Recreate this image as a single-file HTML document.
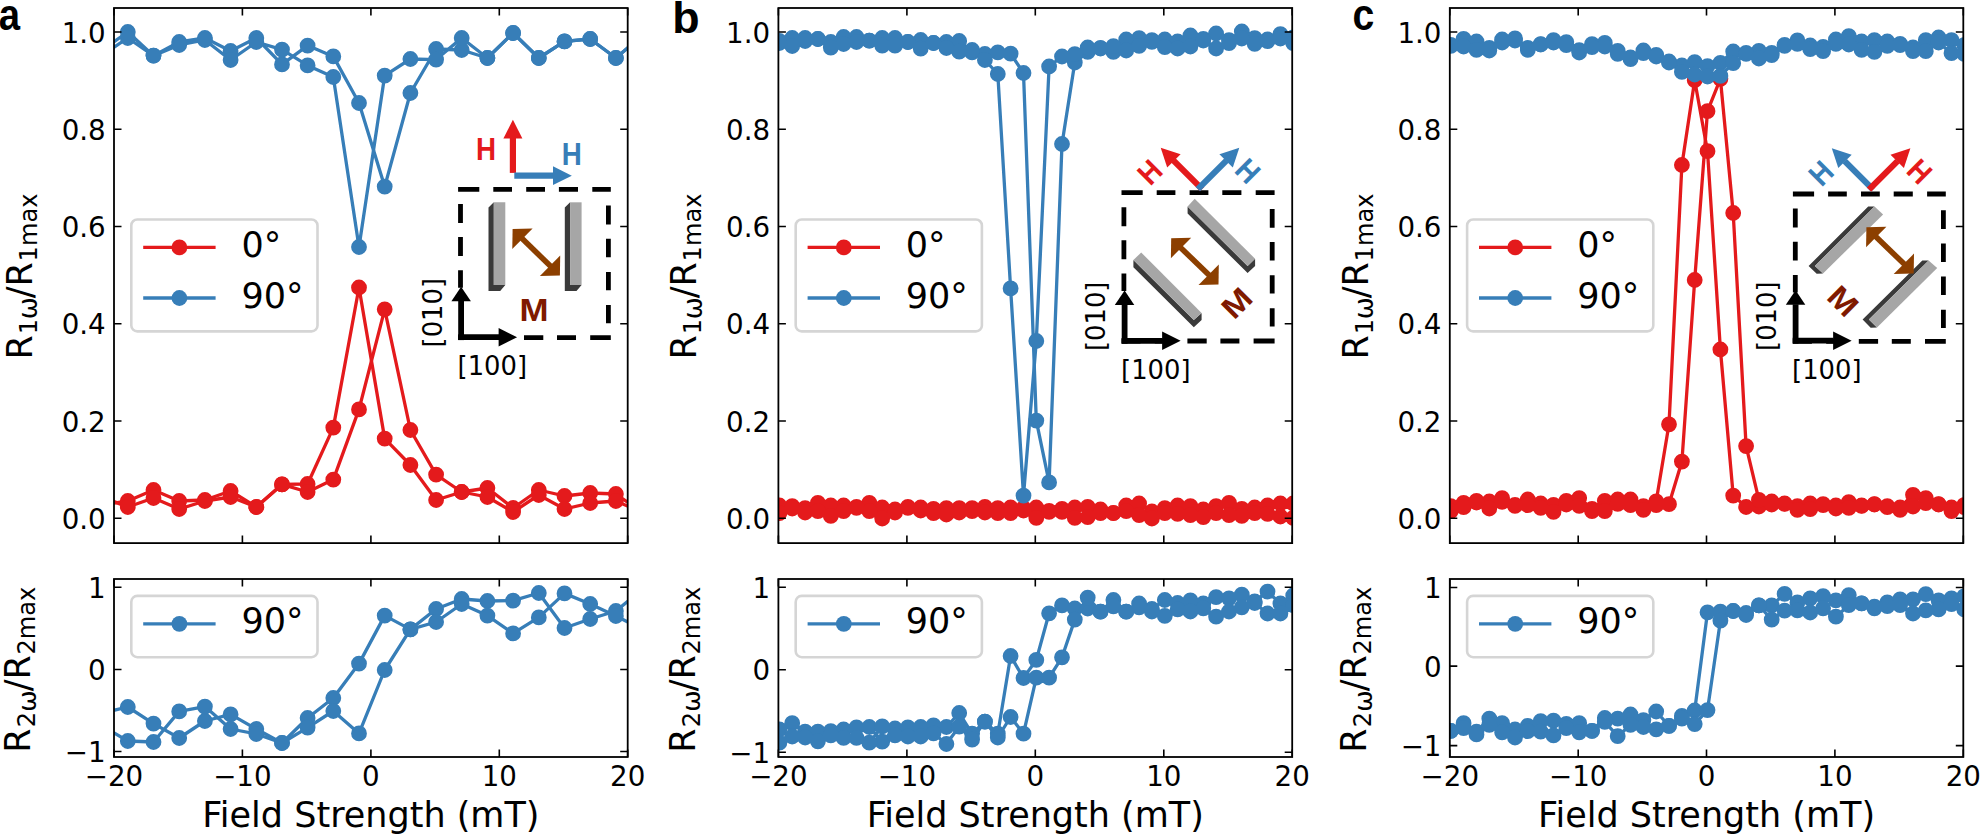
<!DOCTYPE html>
<html><head><meta charset="utf-8"><title>Figure</title>
<style>html,body{margin:0;padding:0;background:#fff}svg{display:block}text{font-family:"DejaVu Sans", "Liberation Sans", sans-serif;fill:#000}text.b{font-family:"Liberation Sans", "DejaVu Sans", sans-serif;font-weight:bold}</style>
</head><body>
<svg width="1980" height="835" viewBox="0 0 1980 835">
<rect width="1980" height="835" fill="#fff"/>
<defs>
<clipPath id="cta"><rect x="114" y="8" width="513.7" height="535.1"/></clipPath>
<clipPath id="cba"><rect x="114" y="579" width="513.7" height="178"/></clipPath>
<clipPath id="ctb"><rect x="778.4" y="8" width="513.8" height="535.1"/></clipPath>
<clipPath id="cbb"><rect x="778.4" y="579" width="513.8" height="178"/></clipPath>
<clipPath id="ctc"><rect x="1449.8" y="8" width="513.5" height="535.1"/></clipPath>
<clipPath id="cbc"><rect x="1449.8" y="579" width="513.5" height="178"/></clipPath>
</defs>
<g clip-path="url(#cta)">
<polyline points="102.2,505 127.8,501 153.5,490 179.2,501 204.9,500 230.6,491 256.3,507 282,484.4 307.6,484 333.3,427.6 359,287.5 384.7,438.6 410.4,465 436.1,500 461.7,492 487.4,488 513.1,508 538.8,490 564.5,496 590.2,493 615.9,494 641.5,512" fill="none" stroke="#e41a1c" stroke-width="3.3" stroke-linejoin="round"/>
<path d="M102.2,505m-7.9,0a7.9,7.9 0 1,0 15.8,0a7.9,7.9 0 1,0 -15.8,0M127.8,501m-7.9,0a7.9,7.9 0 1,0 15.8,0a7.9,7.9 0 1,0 -15.8,0M153.5,490m-7.9,0a7.9,7.9 0 1,0 15.8,0a7.9,7.9 0 1,0 -15.8,0M179.2,501m-7.9,0a7.9,7.9 0 1,0 15.8,0a7.9,7.9 0 1,0 -15.8,0M204.9,500m-7.9,0a7.9,7.9 0 1,0 15.8,0a7.9,7.9 0 1,0 -15.8,0M230.6,491m-7.9,0a7.9,7.9 0 1,0 15.8,0a7.9,7.9 0 1,0 -15.8,0M256.3,507m-7.9,0a7.9,7.9 0 1,0 15.8,0a7.9,7.9 0 1,0 -15.8,0M282,484.4m-7.9,0a7.9,7.9 0 1,0 15.8,0a7.9,7.9 0 1,0 -15.8,0M307.6,484m-7.9,0a7.9,7.9 0 1,0 15.8,0a7.9,7.9 0 1,0 -15.8,0M333.3,427.6m-7.9,0a7.9,7.9 0 1,0 15.8,0a7.9,7.9 0 1,0 -15.8,0M359,287.5m-7.9,0a7.9,7.9 0 1,0 15.8,0a7.9,7.9 0 1,0 -15.8,0M384.7,438.6m-7.9,0a7.9,7.9 0 1,0 15.8,0a7.9,7.9 0 1,0 -15.8,0M410.4,465m-7.9,0a7.9,7.9 0 1,0 15.8,0a7.9,7.9 0 1,0 -15.8,0M436.1,500m-7.9,0a7.9,7.9 0 1,0 15.8,0a7.9,7.9 0 1,0 -15.8,0M461.7,492m-7.9,0a7.9,7.9 0 1,0 15.8,0a7.9,7.9 0 1,0 -15.8,0M487.4,488m-7.9,0a7.9,7.9 0 1,0 15.8,0a7.9,7.9 0 1,0 -15.8,0M513.1,508m-7.9,0a7.9,7.9 0 1,0 15.8,0a7.9,7.9 0 1,0 -15.8,0M538.8,490m-7.9,0a7.9,7.9 0 1,0 15.8,0a7.9,7.9 0 1,0 -15.8,0M564.5,496m-7.9,0a7.9,7.9 0 1,0 15.8,0a7.9,7.9 0 1,0 -15.8,0M590.2,493m-7.9,0a7.9,7.9 0 1,0 15.8,0a7.9,7.9 0 1,0 -15.8,0M615.9,494m-7.9,0a7.9,7.9 0 1,0 15.8,0a7.9,7.9 0 1,0 -15.8,0M641.5,512m-7.9,0a7.9,7.9 0 1,0 15.8,0a7.9,7.9 0 1,0 -15.8,0" fill="#e41a1c"/>
<polyline points="102.2,497 127.8,507 153.5,498 179.2,509 204.9,501 230.6,497 256.3,507 282,484.4 307.6,492 333.3,479.6 359,409.4 384.7,309.3 410.4,430 436.1,474.6 461.7,492 487.4,497 513.1,512 538.8,495 564.5,509 590.2,503 615.9,501 641.5,512" fill="none" stroke="#e41a1c" stroke-width="3.3" stroke-linejoin="round"/>
<path d="M102.2,497m-7.9,0a7.9,7.9 0 1,0 15.8,0a7.9,7.9 0 1,0 -15.8,0M127.8,507m-7.9,0a7.9,7.9 0 1,0 15.8,0a7.9,7.9 0 1,0 -15.8,0M153.5,498m-7.9,0a7.9,7.9 0 1,0 15.8,0a7.9,7.9 0 1,0 -15.8,0M179.2,509m-7.9,0a7.9,7.9 0 1,0 15.8,0a7.9,7.9 0 1,0 -15.8,0M204.9,501m-7.9,0a7.9,7.9 0 1,0 15.8,0a7.9,7.9 0 1,0 -15.8,0M230.6,497m-7.9,0a7.9,7.9 0 1,0 15.8,0a7.9,7.9 0 1,0 -15.8,0M256.3,507m-7.9,0a7.9,7.9 0 1,0 15.8,0a7.9,7.9 0 1,0 -15.8,0M282,484.4m-7.9,0a7.9,7.9 0 1,0 15.8,0a7.9,7.9 0 1,0 -15.8,0M307.6,492m-7.9,0a7.9,7.9 0 1,0 15.8,0a7.9,7.9 0 1,0 -15.8,0M333.3,479.6m-7.9,0a7.9,7.9 0 1,0 15.8,0a7.9,7.9 0 1,0 -15.8,0M359,409.4m-7.9,0a7.9,7.9 0 1,0 15.8,0a7.9,7.9 0 1,0 -15.8,0M384.7,309.3m-7.9,0a7.9,7.9 0 1,0 15.8,0a7.9,7.9 0 1,0 -15.8,0M410.4,430m-7.9,0a7.9,7.9 0 1,0 15.8,0a7.9,7.9 0 1,0 -15.8,0M436.1,474.6m-7.9,0a7.9,7.9 0 1,0 15.8,0a7.9,7.9 0 1,0 -15.8,0M461.7,492m-7.9,0a7.9,7.9 0 1,0 15.8,0a7.9,7.9 0 1,0 -15.8,0M487.4,497m-7.9,0a7.9,7.9 0 1,0 15.8,0a7.9,7.9 0 1,0 -15.8,0M513.1,512m-7.9,0a7.9,7.9 0 1,0 15.8,0a7.9,7.9 0 1,0 -15.8,0M538.8,495m-7.9,0a7.9,7.9 0 1,0 15.8,0a7.9,7.9 0 1,0 -15.8,0M564.5,509m-7.9,0a7.9,7.9 0 1,0 15.8,0a7.9,7.9 0 1,0 -15.8,0M590.2,503m-7.9,0a7.9,7.9 0 1,0 15.8,0a7.9,7.9 0 1,0 -15.8,0M615.9,501m-7.9,0a7.9,7.9 0 1,0 15.8,0a7.9,7.9 0 1,0 -15.8,0M641.5,512m-7.9,0a7.9,7.9 0 1,0 15.8,0a7.9,7.9 0 1,0 -15.8,0" fill="#e41a1c"/>
<polyline points="102.2,50 127.8,32 153.5,55.6 179.2,42 204.9,38 230.6,51 256.3,38 282,64.4 307.6,45.6 333.3,56.4 359,103 384.7,186.6 410.4,93 436.1,49 461.7,50 487.4,58 513.1,33 538.8,58 564.5,41.4 590.2,39 615.9,58 641.5,36" fill="none" stroke="#377eb8" stroke-width="3.3" stroke-linejoin="round"/>
<path d="M102.2,50m-7.9,0a7.9,7.9 0 1,0 15.8,0a7.9,7.9 0 1,0 -15.8,0M127.8,32m-7.9,0a7.9,7.9 0 1,0 15.8,0a7.9,7.9 0 1,0 -15.8,0M153.5,55.6m-7.9,0a7.9,7.9 0 1,0 15.8,0a7.9,7.9 0 1,0 -15.8,0M179.2,42m-7.9,0a7.9,7.9 0 1,0 15.8,0a7.9,7.9 0 1,0 -15.8,0M204.9,38m-7.9,0a7.9,7.9 0 1,0 15.8,0a7.9,7.9 0 1,0 -15.8,0M230.6,51m-7.9,0a7.9,7.9 0 1,0 15.8,0a7.9,7.9 0 1,0 -15.8,0M256.3,38m-7.9,0a7.9,7.9 0 1,0 15.8,0a7.9,7.9 0 1,0 -15.8,0M282,64.4m-7.9,0a7.9,7.9 0 1,0 15.8,0a7.9,7.9 0 1,0 -15.8,0M307.6,45.6m-7.9,0a7.9,7.9 0 1,0 15.8,0a7.9,7.9 0 1,0 -15.8,0M333.3,56.4m-7.9,0a7.9,7.9 0 1,0 15.8,0a7.9,7.9 0 1,0 -15.8,0M359,103m-7.9,0a7.9,7.9 0 1,0 15.8,0a7.9,7.9 0 1,0 -15.8,0M384.7,186.6m-7.9,0a7.9,7.9 0 1,0 15.8,0a7.9,7.9 0 1,0 -15.8,0M410.4,93m-7.9,0a7.9,7.9 0 1,0 15.8,0a7.9,7.9 0 1,0 -15.8,0M436.1,49m-7.9,0a7.9,7.9 0 1,0 15.8,0a7.9,7.9 0 1,0 -15.8,0M461.7,50m-7.9,0a7.9,7.9 0 1,0 15.8,0a7.9,7.9 0 1,0 -15.8,0M487.4,58m-7.9,0a7.9,7.9 0 1,0 15.8,0a7.9,7.9 0 1,0 -15.8,0M513.1,33m-7.9,0a7.9,7.9 0 1,0 15.8,0a7.9,7.9 0 1,0 -15.8,0M538.8,58m-7.9,0a7.9,7.9 0 1,0 15.8,0a7.9,7.9 0 1,0 -15.8,0M564.5,41.4m-7.9,0a7.9,7.9 0 1,0 15.8,0a7.9,7.9 0 1,0 -15.8,0M590.2,39m-7.9,0a7.9,7.9 0 1,0 15.8,0a7.9,7.9 0 1,0 -15.8,0M615.9,58m-7.9,0a7.9,7.9 0 1,0 15.8,0a7.9,7.9 0 1,0 -15.8,0M641.5,36m-7.9,0a7.9,7.9 0 1,0 15.8,0a7.9,7.9 0 1,0 -15.8,0" fill="#377eb8"/>
<polyline points="102.2,55 127.8,38 153.5,55.6 179.2,45 204.9,40 230.6,60 256.3,42 282,49.6 307.6,65.4 333.3,77 359,247 384.7,75.6 410.4,59 436.1,59.6 461.7,38 487.4,58 513.1,33 538.8,58 564.5,41.4 590.2,39 615.9,58 641.5,36" fill="none" stroke="#377eb8" stroke-width="3.3" stroke-linejoin="round"/>
<path d="M102.2,55m-7.9,0a7.9,7.9 0 1,0 15.8,0a7.9,7.9 0 1,0 -15.8,0M127.8,38m-7.9,0a7.9,7.9 0 1,0 15.8,0a7.9,7.9 0 1,0 -15.8,0M153.5,55.6m-7.9,0a7.9,7.9 0 1,0 15.8,0a7.9,7.9 0 1,0 -15.8,0M179.2,45m-7.9,0a7.9,7.9 0 1,0 15.8,0a7.9,7.9 0 1,0 -15.8,0M204.9,40m-7.9,0a7.9,7.9 0 1,0 15.8,0a7.9,7.9 0 1,0 -15.8,0M230.6,60m-7.9,0a7.9,7.9 0 1,0 15.8,0a7.9,7.9 0 1,0 -15.8,0M256.3,42m-7.9,0a7.9,7.9 0 1,0 15.8,0a7.9,7.9 0 1,0 -15.8,0M282,49.6m-7.9,0a7.9,7.9 0 1,0 15.8,0a7.9,7.9 0 1,0 -15.8,0M307.6,65.4m-7.9,0a7.9,7.9 0 1,0 15.8,0a7.9,7.9 0 1,0 -15.8,0M333.3,77m-7.9,0a7.9,7.9 0 1,0 15.8,0a7.9,7.9 0 1,0 -15.8,0M359,247m-7.9,0a7.9,7.9 0 1,0 15.8,0a7.9,7.9 0 1,0 -15.8,0M384.7,75.6m-7.9,0a7.9,7.9 0 1,0 15.8,0a7.9,7.9 0 1,0 -15.8,0M410.4,59m-7.9,0a7.9,7.9 0 1,0 15.8,0a7.9,7.9 0 1,0 -15.8,0M436.1,59.6m-7.9,0a7.9,7.9 0 1,0 15.8,0a7.9,7.9 0 1,0 -15.8,0M461.7,38m-7.9,0a7.9,7.9 0 1,0 15.8,0a7.9,7.9 0 1,0 -15.8,0M487.4,58m-7.9,0a7.9,7.9 0 1,0 15.8,0a7.9,7.9 0 1,0 -15.8,0M513.1,33m-7.9,0a7.9,7.9 0 1,0 15.8,0a7.9,7.9 0 1,0 -15.8,0M538.8,58m-7.9,0a7.9,7.9 0 1,0 15.8,0a7.9,7.9 0 1,0 -15.8,0M564.5,41.4m-7.9,0a7.9,7.9 0 1,0 15.8,0a7.9,7.9 0 1,0 -15.8,0M590.2,39m-7.9,0a7.9,7.9 0 1,0 15.8,0a7.9,7.9 0 1,0 -15.8,0M615.9,58m-7.9,0a7.9,7.9 0 1,0 15.8,0a7.9,7.9 0 1,0 -15.8,0M641.5,36m-7.9,0a7.9,7.9 0 1,0 15.8,0a7.9,7.9 0 1,0 -15.8,0" fill="#377eb8"/>
</g>
<g clip-path="url(#cba)">
<polyline points="102.2,713 127.8,707 153.5,723.6 179.2,738 204.9,721 230.6,714.4 256.3,729 282,743 307.6,718 333.3,698 359,663.6 384.7,615.6 410.4,629.4 436.1,609 461.7,599 487.4,601 513.1,600.6 538.8,593 564.5,628 590.2,619 615.9,611 641.5,590" fill="none" stroke="#377eb8" stroke-width="3.3" stroke-linejoin="round"/>
<path d="M102.2,713m-7.9,0a7.9,7.9 0 1,0 15.8,0a7.9,7.9 0 1,0 -15.8,0M127.8,707m-7.9,0a7.9,7.9 0 1,0 15.8,0a7.9,7.9 0 1,0 -15.8,0M153.5,723.6m-7.9,0a7.9,7.9 0 1,0 15.8,0a7.9,7.9 0 1,0 -15.8,0M179.2,738m-7.9,0a7.9,7.9 0 1,0 15.8,0a7.9,7.9 0 1,0 -15.8,0M204.9,721m-7.9,0a7.9,7.9 0 1,0 15.8,0a7.9,7.9 0 1,0 -15.8,0M230.6,714.4m-7.9,0a7.9,7.9 0 1,0 15.8,0a7.9,7.9 0 1,0 -15.8,0M256.3,729m-7.9,0a7.9,7.9 0 1,0 15.8,0a7.9,7.9 0 1,0 -15.8,0M282,743m-7.9,0a7.9,7.9 0 1,0 15.8,0a7.9,7.9 0 1,0 -15.8,0M307.6,718m-7.9,0a7.9,7.9 0 1,0 15.8,0a7.9,7.9 0 1,0 -15.8,0M333.3,698m-7.9,0a7.9,7.9 0 1,0 15.8,0a7.9,7.9 0 1,0 -15.8,0M359,663.6m-7.9,0a7.9,7.9 0 1,0 15.8,0a7.9,7.9 0 1,0 -15.8,0M384.7,615.6m-7.9,0a7.9,7.9 0 1,0 15.8,0a7.9,7.9 0 1,0 -15.8,0M410.4,629.4m-7.9,0a7.9,7.9 0 1,0 15.8,0a7.9,7.9 0 1,0 -15.8,0M436.1,609m-7.9,0a7.9,7.9 0 1,0 15.8,0a7.9,7.9 0 1,0 -15.8,0M461.7,599m-7.9,0a7.9,7.9 0 1,0 15.8,0a7.9,7.9 0 1,0 -15.8,0M487.4,601m-7.9,0a7.9,7.9 0 1,0 15.8,0a7.9,7.9 0 1,0 -15.8,0M513.1,600.6m-7.9,0a7.9,7.9 0 1,0 15.8,0a7.9,7.9 0 1,0 -15.8,0M538.8,593m-7.9,0a7.9,7.9 0 1,0 15.8,0a7.9,7.9 0 1,0 -15.8,0M564.5,628m-7.9,0a7.9,7.9 0 1,0 15.8,0a7.9,7.9 0 1,0 -15.8,0M590.2,619m-7.9,0a7.9,7.9 0 1,0 15.8,0a7.9,7.9 0 1,0 -15.8,0M615.9,611m-7.9,0a7.9,7.9 0 1,0 15.8,0a7.9,7.9 0 1,0 -15.8,0M641.5,590m-7.9,0a7.9,7.9 0 1,0 15.8,0a7.9,7.9 0 1,0 -15.8,0" fill="#377eb8"/>
<polyline points="102.2,726 127.8,741 153.5,742 179.2,711.4 204.9,706.6 230.6,729 256.3,734 282,743 307.6,727.6 333.3,711 359,733.4 384.7,670 410.4,629.4 436.1,622 461.7,604 487.4,615.6 513.1,633.4 538.8,617.4 564.5,593.4 590.2,604 615.9,616 641.5,629" fill="none" stroke="#377eb8" stroke-width="3.3" stroke-linejoin="round"/>
<path d="M102.2,726m-7.9,0a7.9,7.9 0 1,0 15.8,0a7.9,7.9 0 1,0 -15.8,0M127.8,741m-7.9,0a7.9,7.9 0 1,0 15.8,0a7.9,7.9 0 1,0 -15.8,0M153.5,742m-7.9,0a7.9,7.9 0 1,0 15.8,0a7.9,7.9 0 1,0 -15.8,0M179.2,711.4m-7.9,0a7.9,7.9 0 1,0 15.8,0a7.9,7.9 0 1,0 -15.8,0M204.9,706.6m-7.9,0a7.9,7.9 0 1,0 15.8,0a7.9,7.9 0 1,0 -15.8,0M230.6,729m-7.9,0a7.9,7.9 0 1,0 15.8,0a7.9,7.9 0 1,0 -15.8,0M256.3,734m-7.9,0a7.9,7.9 0 1,0 15.8,0a7.9,7.9 0 1,0 -15.8,0M282,743m-7.9,0a7.9,7.9 0 1,0 15.8,0a7.9,7.9 0 1,0 -15.8,0M307.6,727.6m-7.9,0a7.9,7.9 0 1,0 15.8,0a7.9,7.9 0 1,0 -15.8,0M333.3,711m-7.9,0a7.9,7.9 0 1,0 15.8,0a7.9,7.9 0 1,0 -15.8,0M359,733.4m-7.9,0a7.9,7.9 0 1,0 15.8,0a7.9,7.9 0 1,0 -15.8,0M384.7,670m-7.9,0a7.9,7.9 0 1,0 15.8,0a7.9,7.9 0 1,0 -15.8,0M410.4,629.4m-7.9,0a7.9,7.9 0 1,0 15.8,0a7.9,7.9 0 1,0 -15.8,0M436.1,622m-7.9,0a7.9,7.9 0 1,0 15.8,0a7.9,7.9 0 1,0 -15.8,0M461.7,604m-7.9,0a7.9,7.9 0 1,0 15.8,0a7.9,7.9 0 1,0 -15.8,0M487.4,615.6m-7.9,0a7.9,7.9 0 1,0 15.8,0a7.9,7.9 0 1,0 -15.8,0M513.1,633.4m-7.9,0a7.9,7.9 0 1,0 15.8,0a7.9,7.9 0 1,0 -15.8,0M538.8,617.4m-7.9,0a7.9,7.9 0 1,0 15.8,0a7.9,7.9 0 1,0 -15.8,0M564.5,593.4m-7.9,0a7.9,7.9 0 1,0 15.8,0a7.9,7.9 0 1,0 -15.8,0M590.2,604m-7.9,0a7.9,7.9 0 1,0 15.8,0a7.9,7.9 0 1,0 -15.8,0M615.9,616m-7.9,0a7.9,7.9 0 1,0 15.8,0a7.9,7.9 0 1,0 -15.8,0M641.5,629m-7.9,0a7.9,7.9 0 1,0 15.8,0a7.9,7.9 0 1,0 -15.8,0" fill="#377eb8"/>
</g>
<g clip-path="url(#ctb)">
<polyline points="779.4,505.5 792.2,506.1 805.1,508.1 817.9,502.8 830.8,505.5 843.6,505.5 856.5,506.8 869.3,502.8 882.2,507.5 895,509.5 907.9,506.8 920.7,507.5 933.5,508.8 946.4,508.1 959.2,508.1 972.1,508.1 984.9,506.8 997.8,508.1 1010.6,507.5 1023.5,508.1 1036.3,507.5 1049.1,510.8 1062,508.8 1074.8,507.5 1087.7,506.8 1100.5,509.5 1113.4,512.8 1126.2,505.5 1139.1,503.5 1151.9,511.5 1164.8,508.1 1177.6,505.5 1190.4,506.1 1203.3,509.5 1216.1,506.1 1229,502.8 1241.8,508.8 1254.7,507.5 1267.5,505.5 1280.4,503.5 1293.2,503.5" fill="none" stroke="#e41a1c" stroke-width="3.3" stroke-linejoin="round"/>
<path d="M779.4,505.5m-7.9,0a7.9,7.9 0 1,0 15.8,0a7.9,7.9 0 1,0 -15.8,0M792.2,506.1m-7.9,0a7.9,7.9 0 1,0 15.8,0a7.9,7.9 0 1,0 -15.8,0M805.1,508.1m-7.9,0a7.9,7.9 0 1,0 15.8,0a7.9,7.9 0 1,0 -15.8,0M817.9,502.8m-7.9,0a7.9,7.9 0 1,0 15.8,0a7.9,7.9 0 1,0 -15.8,0M830.8,505.5m-7.9,0a7.9,7.9 0 1,0 15.8,0a7.9,7.9 0 1,0 -15.8,0M843.6,505.5m-7.9,0a7.9,7.9 0 1,0 15.8,0a7.9,7.9 0 1,0 -15.8,0M856.5,506.8m-7.9,0a7.9,7.9 0 1,0 15.8,0a7.9,7.9 0 1,0 -15.8,0M869.3,502.8m-7.9,0a7.9,7.9 0 1,0 15.8,0a7.9,7.9 0 1,0 -15.8,0M882.2,507.5m-7.9,0a7.9,7.9 0 1,0 15.8,0a7.9,7.9 0 1,0 -15.8,0M895,509.5m-7.9,0a7.9,7.9 0 1,0 15.8,0a7.9,7.9 0 1,0 -15.8,0M907.9,506.8m-7.9,0a7.9,7.9 0 1,0 15.8,0a7.9,7.9 0 1,0 -15.8,0M920.7,507.5m-7.9,0a7.9,7.9 0 1,0 15.8,0a7.9,7.9 0 1,0 -15.8,0M933.5,508.8m-7.9,0a7.9,7.9 0 1,0 15.8,0a7.9,7.9 0 1,0 -15.8,0M946.4,508.1m-7.9,0a7.9,7.9 0 1,0 15.8,0a7.9,7.9 0 1,0 -15.8,0M959.2,508.1m-7.9,0a7.9,7.9 0 1,0 15.8,0a7.9,7.9 0 1,0 -15.8,0M972.1,508.1m-7.9,0a7.9,7.9 0 1,0 15.8,0a7.9,7.9 0 1,0 -15.8,0M984.9,506.8m-7.9,0a7.9,7.9 0 1,0 15.8,0a7.9,7.9 0 1,0 -15.8,0M997.8,508.1m-7.9,0a7.9,7.9 0 1,0 15.8,0a7.9,7.9 0 1,0 -15.8,0M1010.6,507.5m-7.9,0a7.9,7.9 0 1,0 15.8,0a7.9,7.9 0 1,0 -15.8,0M1023.5,508.1m-7.9,0a7.9,7.9 0 1,0 15.8,0a7.9,7.9 0 1,0 -15.8,0M1036.3,507.5m-7.9,0a7.9,7.9 0 1,0 15.8,0a7.9,7.9 0 1,0 -15.8,0M1049.1,510.8m-7.9,0a7.9,7.9 0 1,0 15.8,0a7.9,7.9 0 1,0 -15.8,0M1062,508.8m-7.9,0a7.9,7.9 0 1,0 15.8,0a7.9,7.9 0 1,0 -15.8,0M1074.8,507.5m-7.9,0a7.9,7.9 0 1,0 15.8,0a7.9,7.9 0 1,0 -15.8,0M1087.7,506.8m-7.9,0a7.9,7.9 0 1,0 15.8,0a7.9,7.9 0 1,0 -15.8,0M1100.5,509.5m-7.9,0a7.9,7.9 0 1,0 15.8,0a7.9,7.9 0 1,0 -15.8,0M1113.4,512.8m-7.9,0a7.9,7.9 0 1,0 15.8,0a7.9,7.9 0 1,0 -15.8,0M1126.2,505.5m-7.9,0a7.9,7.9 0 1,0 15.8,0a7.9,7.9 0 1,0 -15.8,0M1139.1,503.5m-7.9,0a7.9,7.9 0 1,0 15.8,0a7.9,7.9 0 1,0 -15.8,0M1151.9,511.5m-7.9,0a7.9,7.9 0 1,0 15.8,0a7.9,7.9 0 1,0 -15.8,0M1164.8,508.1m-7.9,0a7.9,7.9 0 1,0 15.8,0a7.9,7.9 0 1,0 -15.8,0M1177.6,505.5m-7.9,0a7.9,7.9 0 1,0 15.8,0a7.9,7.9 0 1,0 -15.8,0M1190.4,506.1m-7.9,0a7.9,7.9 0 1,0 15.8,0a7.9,7.9 0 1,0 -15.8,0M1203.3,509.5m-7.9,0a7.9,7.9 0 1,0 15.8,0a7.9,7.9 0 1,0 -15.8,0M1216.1,506.1m-7.9,0a7.9,7.9 0 1,0 15.8,0a7.9,7.9 0 1,0 -15.8,0M1229,502.8m-7.9,0a7.9,7.9 0 1,0 15.8,0a7.9,7.9 0 1,0 -15.8,0M1241.8,508.8m-7.9,0a7.9,7.9 0 1,0 15.8,0a7.9,7.9 0 1,0 -15.8,0M1254.7,507.5m-7.9,0a7.9,7.9 0 1,0 15.8,0a7.9,7.9 0 1,0 -15.8,0M1267.5,505.5m-7.9,0a7.9,7.9 0 1,0 15.8,0a7.9,7.9 0 1,0 -15.8,0M1280.4,503.5m-7.9,0a7.9,7.9 0 1,0 15.8,0a7.9,7.9 0 1,0 -15.8,0M1293.2,503.5m-7.9,0a7.9,7.9 0 1,0 15.8,0a7.9,7.9 0 1,0 -15.8,0" fill="#e41a1c"/>
<polyline points="779.4,513.2 792.2,508.5 805.1,512.5 817.9,511.2 830.8,515.9 843.6,511.2 856.5,507.9 869.3,511.2 882.2,518.5 895,512.5 907.9,507.9 920.7,510.5 933.5,513.2 946.4,514.5 959.2,512.5 972.1,511.2 984.9,512.5 997.8,513.2 1010.6,513.2 1023.5,510.5 1036.3,517.9 1049.1,511.9 1062,511.9 1074.8,517.9 1087.7,517.2 1100.5,513.2 1113.4,513.2 1126.2,511.2 1139.1,515.2 1151.9,518.5 1164.8,513.2 1177.6,513.9 1190.4,515.2 1203.3,517.2 1216.1,513.2 1229,515.2 1241.8,515.9 1254.7,513.2 1267.5,513.9 1280.4,516.5 1293.2,517.9" fill="none" stroke="#e41a1c" stroke-width="3.3" stroke-linejoin="round"/>
<path d="M779.4,513.2m-7.9,0a7.9,7.9 0 1,0 15.8,0a7.9,7.9 0 1,0 -15.8,0M792.2,508.5m-7.9,0a7.9,7.9 0 1,0 15.8,0a7.9,7.9 0 1,0 -15.8,0M805.1,512.5m-7.9,0a7.9,7.9 0 1,0 15.8,0a7.9,7.9 0 1,0 -15.8,0M817.9,511.2m-7.9,0a7.9,7.9 0 1,0 15.8,0a7.9,7.9 0 1,0 -15.8,0M830.8,515.9m-7.9,0a7.9,7.9 0 1,0 15.8,0a7.9,7.9 0 1,0 -15.8,0M843.6,511.2m-7.9,0a7.9,7.9 0 1,0 15.8,0a7.9,7.9 0 1,0 -15.8,0M856.5,507.9m-7.9,0a7.9,7.9 0 1,0 15.8,0a7.9,7.9 0 1,0 -15.8,0M869.3,511.2m-7.9,0a7.9,7.9 0 1,0 15.8,0a7.9,7.9 0 1,0 -15.8,0M882.2,518.5m-7.9,0a7.9,7.9 0 1,0 15.8,0a7.9,7.9 0 1,0 -15.8,0M895,512.5m-7.9,0a7.9,7.9 0 1,0 15.8,0a7.9,7.9 0 1,0 -15.8,0M907.9,507.9m-7.9,0a7.9,7.9 0 1,0 15.8,0a7.9,7.9 0 1,0 -15.8,0M920.7,510.5m-7.9,0a7.9,7.9 0 1,0 15.8,0a7.9,7.9 0 1,0 -15.8,0M933.5,513.2m-7.9,0a7.9,7.9 0 1,0 15.8,0a7.9,7.9 0 1,0 -15.8,0M946.4,514.5m-7.9,0a7.9,7.9 0 1,0 15.8,0a7.9,7.9 0 1,0 -15.8,0M959.2,512.5m-7.9,0a7.9,7.9 0 1,0 15.8,0a7.9,7.9 0 1,0 -15.8,0M972.1,511.2m-7.9,0a7.9,7.9 0 1,0 15.8,0a7.9,7.9 0 1,0 -15.8,0M984.9,512.5m-7.9,0a7.9,7.9 0 1,0 15.8,0a7.9,7.9 0 1,0 -15.8,0M997.8,513.2m-7.9,0a7.9,7.9 0 1,0 15.8,0a7.9,7.9 0 1,0 -15.8,0M1010.6,513.2m-7.9,0a7.9,7.9 0 1,0 15.8,0a7.9,7.9 0 1,0 -15.8,0M1023.5,510.5m-7.9,0a7.9,7.9 0 1,0 15.8,0a7.9,7.9 0 1,0 -15.8,0M1036.3,517.9m-7.9,0a7.9,7.9 0 1,0 15.8,0a7.9,7.9 0 1,0 -15.8,0M1049.1,511.9m-7.9,0a7.9,7.9 0 1,0 15.8,0a7.9,7.9 0 1,0 -15.8,0M1062,511.9m-7.9,0a7.9,7.9 0 1,0 15.8,0a7.9,7.9 0 1,0 -15.8,0M1074.8,517.9m-7.9,0a7.9,7.9 0 1,0 15.8,0a7.9,7.9 0 1,0 -15.8,0M1087.7,517.2m-7.9,0a7.9,7.9 0 1,0 15.8,0a7.9,7.9 0 1,0 -15.8,0M1100.5,513.2m-7.9,0a7.9,7.9 0 1,0 15.8,0a7.9,7.9 0 1,0 -15.8,0M1113.4,513.2m-7.9,0a7.9,7.9 0 1,0 15.8,0a7.9,7.9 0 1,0 -15.8,0M1126.2,511.2m-7.9,0a7.9,7.9 0 1,0 15.8,0a7.9,7.9 0 1,0 -15.8,0M1139.1,515.2m-7.9,0a7.9,7.9 0 1,0 15.8,0a7.9,7.9 0 1,0 -15.8,0M1151.9,518.5m-7.9,0a7.9,7.9 0 1,0 15.8,0a7.9,7.9 0 1,0 -15.8,0M1164.8,513.2m-7.9,0a7.9,7.9 0 1,0 15.8,0a7.9,7.9 0 1,0 -15.8,0M1177.6,513.9m-7.9,0a7.9,7.9 0 1,0 15.8,0a7.9,7.9 0 1,0 -15.8,0M1190.4,515.2m-7.9,0a7.9,7.9 0 1,0 15.8,0a7.9,7.9 0 1,0 -15.8,0M1203.3,517.2m-7.9,0a7.9,7.9 0 1,0 15.8,0a7.9,7.9 0 1,0 -15.8,0M1216.1,513.2m-7.9,0a7.9,7.9 0 1,0 15.8,0a7.9,7.9 0 1,0 -15.8,0M1229,515.2m-7.9,0a7.9,7.9 0 1,0 15.8,0a7.9,7.9 0 1,0 -15.8,0M1241.8,515.9m-7.9,0a7.9,7.9 0 1,0 15.8,0a7.9,7.9 0 1,0 -15.8,0M1254.7,513.2m-7.9,0a7.9,7.9 0 1,0 15.8,0a7.9,7.9 0 1,0 -15.8,0M1267.5,513.9m-7.9,0a7.9,7.9 0 1,0 15.8,0a7.9,7.9 0 1,0 -15.8,0M1280.4,516.5m-7.9,0a7.9,7.9 0 1,0 15.8,0a7.9,7.9 0 1,0 -15.8,0M1293.2,517.9m-7.9,0a7.9,7.9 0 1,0 15.8,0a7.9,7.9 0 1,0 -15.8,0" fill="#e41a1c"/>
<polyline points="779.4,41 792.2,38 805.1,38 817.9,39 830.8,42 843.6,37 856.5,37 869.3,40.6 882.2,38 895,38 907.9,42 920.7,40 933.5,43 946.4,42 959.2,41 972.1,52.4 984.9,54 997.8,52.4 1010.6,53.6 1023.5,73 1036.3,420.6 1049.1,482.4 1062,144 1074.8,62.5 1087.7,51.9 1100.5,47.9 1113.4,51.9 1126.2,39.5 1139.1,38.1 1151.9,40.1 1164.8,39.5 1177.6,41.5 1190.4,35.5 1203.3,38.8 1216.1,33.5 1229,40.1 1241.8,31.5 1254.7,38.1 1267.5,39.5 1280.4,34.1 1293.2,37.5" fill="none" stroke="#377eb8" stroke-width="3.3" stroke-linejoin="round"/>
<path d="M779.4,41m-7.9,0a7.9,7.9 0 1,0 15.8,0a7.9,7.9 0 1,0 -15.8,0M792.2,38m-7.9,0a7.9,7.9 0 1,0 15.8,0a7.9,7.9 0 1,0 -15.8,0M805.1,38m-7.9,0a7.9,7.9 0 1,0 15.8,0a7.9,7.9 0 1,0 -15.8,0M817.9,39m-7.9,0a7.9,7.9 0 1,0 15.8,0a7.9,7.9 0 1,0 -15.8,0M830.8,42m-7.9,0a7.9,7.9 0 1,0 15.8,0a7.9,7.9 0 1,0 -15.8,0M843.6,37m-7.9,0a7.9,7.9 0 1,0 15.8,0a7.9,7.9 0 1,0 -15.8,0M856.5,37m-7.9,0a7.9,7.9 0 1,0 15.8,0a7.9,7.9 0 1,0 -15.8,0M869.3,40.6m-7.9,0a7.9,7.9 0 1,0 15.8,0a7.9,7.9 0 1,0 -15.8,0M882.2,38m-7.9,0a7.9,7.9 0 1,0 15.8,0a7.9,7.9 0 1,0 -15.8,0M895,38m-7.9,0a7.9,7.9 0 1,0 15.8,0a7.9,7.9 0 1,0 -15.8,0M907.9,42m-7.9,0a7.9,7.9 0 1,0 15.8,0a7.9,7.9 0 1,0 -15.8,0M920.7,40m-7.9,0a7.9,7.9 0 1,0 15.8,0a7.9,7.9 0 1,0 -15.8,0M933.5,43m-7.9,0a7.9,7.9 0 1,0 15.8,0a7.9,7.9 0 1,0 -15.8,0M946.4,42m-7.9,0a7.9,7.9 0 1,0 15.8,0a7.9,7.9 0 1,0 -15.8,0M959.2,41m-7.9,0a7.9,7.9 0 1,0 15.8,0a7.9,7.9 0 1,0 -15.8,0M972.1,52.4m-7.9,0a7.9,7.9 0 1,0 15.8,0a7.9,7.9 0 1,0 -15.8,0M984.9,54m-7.9,0a7.9,7.9 0 1,0 15.8,0a7.9,7.9 0 1,0 -15.8,0M997.8,52.4m-7.9,0a7.9,7.9 0 1,0 15.8,0a7.9,7.9 0 1,0 -15.8,0M1010.6,53.6m-7.9,0a7.9,7.9 0 1,0 15.8,0a7.9,7.9 0 1,0 -15.8,0M1023.5,73m-7.9,0a7.9,7.9 0 1,0 15.8,0a7.9,7.9 0 1,0 -15.8,0M1036.3,420.6m-7.9,0a7.9,7.9 0 1,0 15.8,0a7.9,7.9 0 1,0 -15.8,0M1049.1,482.4m-7.9,0a7.9,7.9 0 1,0 15.8,0a7.9,7.9 0 1,0 -15.8,0M1062,144m-7.9,0a7.9,7.9 0 1,0 15.8,0a7.9,7.9 0 1,0 -15.8,0M1074.8,62.5m-7.9,0a7.9,7.9 0 1,0 15.8,0a7.9,7.9 0 1,0 -15.8,0M1087.7,51.9m-7.9,0a7.9,7.9 0 1,0 15.8,0a7.9,7.9 0 1,0 -15.8,0M1100.5,47.9m-7.9,0a7.9,7.9 0 1,0 15.8,0a7.9,7.9 0 1,0 -15.8,0M1113.4,51.9m-7.9,0a7.9,7.9 0 1,0 15.8,0a7.9,7.9 0 1,0 -15.8,0M1126.2,39.5m-7.9,0a7.9,7.9 0 1,0 15.8,0a7.9,7.9 0 1,0 -15.8,0M1139.1,38.1m-7.9,0a7.9,7.9 0 1,0 15.8,0a7.9,7.9 0 1,0 -15.8,0M1151.9,40.1m-7.9,0a7.9,7.9 0 1,0 15.8,0a7.9,7.9 0 1,0 -15.8,0M1164.8,39.5m-7.9,0a7.9,7.9 0 1,0 15.8,0a7.9,7.9 0 1,0 -15.8,0M1177.6,41.5m-7.9,0a7.9,7.9 0 1,0 15.8,0a7.9,7.9 0 1,0 -15.8,0M1190.4,35.5m-7.9,0a7.9,7.9 0 1,0 15.8,0a7.9,7.9 0 1,0 -15.8,0M1203.3,38.8m-7.9,0a7.9,7.9 0 1,0 15.8,0a7.9,7.9 0 1,0 -15.8,0M1216.1,33.5m-7.9,0a7.9,7.9 0 1,0 15.8,0a7.9,7.9 0 1,0 -15.8,0M1229,40.1m-7.9,0a7.9,7.9 0 1,0 15.8,0a7.9,7.9 0 1,0 -15.8,0M1241.8,31.5m-7.9,0a7.9,7.9 0 1,0 15.8,0a7.9,7.9 0 1,0 -15.8,0M1254.7,38.1m-7.9,0a7.9,7.9 0 1,0 15.8,0a7.9,7.9 0 1,0 -15.8,0M1267.5,39.5m-7.9,0a7.9,7.9 0 1,0 15.8,0a7.9,7.9 0 1,0 -15.8,0M1280.4,34.1m-7.9,0a7.9,7.9 0 1,0 15.8,0a7.9,7.9 0 1,0 -15.8,0M1293.2,37.5m-7.9,0a7.9,7.9 0 1,0 15.8,0a7.9,7.9 0 1,0 -15.8,0" fill="#377eb8"/>
<polyline points="779.4,43 792.2,46 805.1,41 817.9,39 830.8,47.6 843.6,44 856.5,42 869.3,40.6 882.2,45.6 895,45.6 907.9,42 920.7,48.6 933.5,43 946.4,48 959.2,51.6 972.1,50 984.9,60 997.8,74 1010.6,288.4 1023.5,495.6 1036.3,341 1049.1,66.5 1062,56.5 1074.8,54.1 1087.7,47.5 1100.5,48.5 1113.4,46.1 1126.2,50.5 1139.1,45.9 1151.9,41.9 1164.8,47.2 1177.6,48.5 1190.4,46.5 1203.3,40.5 1216.1,48.5 1229,43.2 1241.8,38.5 1254.7,43.9 1267.5,41.2 1280.4,38.5 1293.2,43.2" fill="none" stroke="#377eb8" stroke-width="3.3" stroke-linejoin="round"/>
<path d="M779.4,43m-7.9,0a7.9,7.9 0 1,0 15.8,0a7.9,7.9 0 1,0 -15.8,0M792.2,46m-7.9,0a7.9,7.9 0 1,0 15.8,0a7.9,7.9 0 1,0 -15.8,0M805.1,41m-7.9,0a7.9,7.9 0 1,0 15.8,0a7.9,7.9 0 1,0 -15.8,0M817.9,39m-7.9,0a7.9,7.9 0 1,0 15.8,0a7.9,7.9 0 1,0 -15.8,0M830.8,47.6m-7.9,0a7.9,7.9 0 1,0 15.8,0a7.9,7.9 0 1,0 -15.8,0M843.6,44m-7.9,0a7.9,7.9 0 1,0 15.8,0a7.9,7.9 0 1,0 -15.8,0M856.5,42m-7.9,0a7.9,7.9 0 1,0 15.8,0a7.9,7.9 0 1,0 -15.8,0M869.3,40.6m-7.9,0a7.9,7.9 0 1,0 15.8,0a7.9,7.9 0 1,0 -15.8,0M882.2,45.6m-7.9,0a7.9,7.9 0 1,0 15.8,0a7.9,7.9 0 1,0 -15.8,0M895,45.6m-7.9,0a7.9,7.9 0 1,0 15.8,0a7.9,7.9 0 1,0 -15.8,0M907.9,42m-7.9,0a7.9,7.9 0 1,0 15.8,0a7.9,7.9 0 1,0 -15.8,0M920.7,48.6m-7.9,0a7.9,7.9 0 1,0 15.8,0a7.9,7.9 0 1,0 -15.8,0M933.5,43m-7.9,0a7.9,7.9 0 1,0 15.8,0a7.9,7.9 0 1,0 -15.8,0M946.4,48m-7.9,0a7.9,7.9 0 1,0 15.8,0a7.9,7.9 0 1,0 -15.8,0M959.2,51.6m-7.9,0a7.9,7.9 0 1,0 15.8,0a7.9,7.9 0 1,0 -15.8,0M972.1,50m-7.9,0a7.9,7.9 0 1,0 15.8,0a7.9,7.9 0 1,0 -15.8,0M984.9,60m-7.9,0a7.9,7.9 0 1,0 15.8,0a7.9,7.9 0 1,0 -15.8,0M997.8,74m-7.9,0a7.9,7.9 0 1,0 15.8,0a7.9,7.9 0 1,0 -15.8,0M1010.6,288.4m-7.9,0a7.9,7.9 0 1,0 15.8,0a7.9,7.9 0 1,0 -15.8,0M1023.5,495.6m-7.9,0a7.9,7.9 0 1,0 15.8,0a7.9,7.9 0 1,0 -15.8,0M1036.3,341m-7.9,0a7.9,7.9 0 1,0 15.8,0a7.9,7.9 0 1,0 -15.8,0M1049.1,66.5m-7.9,0a7.9,7.9 0 1,0 15.8,0a7.9,7.9 0 1,0 -15.8,0M1062,56.5m-7.9,0a7.9,7.9 0 1,0 15.8,0a7.9,7.9 0 1,0 -15.8,0M1074.8,54.1m-7.9,0a7.9,7.9 0 1,0 15.8,0a7.9,7.9 0 1,0 -15.8,0M1087.7,47.5m-7.9,0a7.9,7.9 0 1,0 15.8,0a7.9,7.9 0 1,0 -15.8,0M1100.5,48.5m-7.9,0a7.9,7.9 0 1,0 15.8,0a7.9,7.9 0 1,0 -15.8,0M1113.4,46.1m-7.9,0a7.9,7.9 0 1,0 15.8,0a7.9,7.9 0 1,0 -15.8,0M1126.2,50.5m-7.9,0a7.9,7.9 0 1,0 15.8,0a7.9,7.9 0 1,0 -15.8,0M1139.1,45.9m-7.9,0a7.9,7.9 0 1,0 15.8,0a7.9,7.9 0 1,0 -15.8,0M1151.9,41.9m-7.9,0a7.9,7.9 0 1,0 15.8,0a7.9,7.9 0 1,0 -15.8,0M1164.8,47.2m-7.9,0a7.9,7.9 0 1,0 15.8,0a7.9,7.9 0 1,0 -15.8,0M1177.6,48.5m-7.9,0a7.9,7.9 0 1,0 15.8,0a7.9,7.9 0 1,0 -15.8,0M1190.4,46.5m-7.9,0a7.9,7.9 0 1,0 15.8,0a7.9,7.9 0 1,0 -15.8,0M1203.3,40.5m-7.9,0a7.9,7.9 0 1,0 15.8,0a7.9,7.9 0 1,0 -15.8,0M1216.1,48.5m-7.9,0a7.9,7.9 0 1,0 15.8,0a7.9,7.9 0 1,0 -15.8,0M1229,43.2m-7.9,0a7.9,7.9 0 1,0 15.8,0a7.9,7.9 0 1,0 -15.8,0M1241.8,38.5m-7.9,0a7.9,7.9 0 1,0 15.8,0a7.9,7.9 0 1,0 -15.8,0M1254.7,43.9m-7.9,0a7.9,7.9 0 1,0 15.8,0a7.9,7.9 0 1,0 -15.8,0M1267.5,41.2m-7.9,0a7.9,7.9 0 1,0 15.8,0a7.9,7.9 0 1,0 -15.8,0M1280.4,38.5m-7.9,0a7.9,7.9 0 1,0 15.8,0a7.9,7.9 0 1,0 -15.8,0M1293.2,43.2m-7.9,0a7.9,7.9 0 1,0 15.8,0a7.9,7.9 0 1,0 -15.8,0" fill="#377eb8"/>
</g>
<g clip-path="url(#cbb)">
<polyline points="779.4,729.5 792.2,723.2 805.1,731.6 817.9,731.6 830.8,731.2 843.6,729.5 856.5,727.4 869.3,727 882.2,741.7 895,728.5 907.9,727.4 920.7,727 933.5,725.3 946.4,727 959.2,713 972.1,733.7 984.9,721.6 997.8,733.7 1010.6,656 1023.5,678 1036.3,659.9 1049.1,613.3 1062,605.4 1074.8,608.5 1087.7,608.5 1100.5,611.7 1113.4,600 1126.2,611.7 1139.1,603.5 1151.9,609 1164.8,600 1177.6,603 1190.4,600.4 1203.3,603.5 1216.1,597.2 1229,598.3 1241.8,594.7 1254.7,601.4 1267.5,591.6 1280.4,603.5 1293.2,595.5" fill="none" stroke="#377eb8" stroke-width="3.3" stroke-linejoin="round"/>
<path d="M779.4,729.5m-7.9,0a7.9,7.9 0 1,0 15.8,0a7.9,7.9 0 1,0 -15.8,0M792.2,723.2m-7.9,0a7.9,7.9 0 1,0 15.8,0a7.9,7.9 0 1,0 -15.8,0M805.1,731.6m-7.9,0a7.9,7.9 0 1,0 15.8,0a7.9,7.9 0 1,0 -15.8,0M817.9,731.6m-7.9,0a7.9,7.9 0 1,0 15.8,0a7.9,7.9 0 1,0 -15.8,0M830.8,731.2m-7.9,0a7.9,7.9 0 1,0 15.8,0a7.9,7.9 0 1,0 -15.8,0M843.6,729.5m-7.9,0a7.9,7.9 0 1,0 15.8,0a7.9,7.9 0 1,0 -15.8,0M856.5,727.4m-7.9,0a7.9,7.9 0 1,0 15.8,0a7.9,7.9 0 1,0 -15.8,0M869.3,727m-7.9,0a7.9,7.9 0 1,0 15.8,0a7.9,7.9 0 1,0 -15.8,0M882.2,741.7m-7.9,0a7.9,7.9 0 1,0 15.8,0a7.9,7.9 0 1,0 -15.8,0M895,728.5m-7.9,0a7.9,7.9 0 1,0 15.8,0a7.9,7.9 0 1,0 -15.8,0M907.9,727.4m-7.9,0a7.9,7.9 0 1,0 15.8,0a7.9,7.9 0 1,0 -15.8,0M920.7,727m-7.9,0a7.9,7.9 0 1,0 15.8,0a7.9,7.9 0 1,0 -15.8,0M933.5,725.3m-7.9,0a7.9,7.9 0 1,0 15.8,0a7.9,7.9 0 1,0 -15.8,0M946.4,727m-7.9,0a7.9,7.9 0 1,0 15.8,0a7.9,7.9 0 1,0 -15.8,0M959.2,713m-7.9,0a7.9,7.9 0 1,0 15.8,0a7.9,7.9 0 1,0 -15.8,0M972.1,733.7m-7.9,0a7.9,7.9 0 1,0 15.8,0a7.9,7.9 0 1,0 -15.8,0M984.9,721.6m-7.9,0a7.9,7.9 0 1,0 15.8,0a7.9,7.9 0 1,0 -15.8,0M997.8,733.7m-7.9,0a7.9,7.9 0 1,0 15.8,0a7.9,7.9 0 1,0 -15.8,0M1010.6,656m-7.9,0a7.9,7.9 0 1,0 15.8,0a7.9,7.9 0 1,0 -15.8,0M1023.5,678m-7.9,0a7.9,7.9 0 1,0 15.8,0a7.9,7.9 0 1,0 -15.8,0M1036.3,659.9m-7.9,0a7.9,7.9 0 1,0 15.8,0a7.9,7.9 0 1,0 -15.8,0M1049.1,613.3m-7.9,0a7.9,7.9 0 1,0 15.8,0a7.9,7.9 0 1,0 -15.8,0M1062,605.4m-7.9,0a7.9,7.9 0 1,0 15.8,0a7.9,7.9 0 1,0 -15.8,0M1074.8,608.5m-7.9,0a7.9,7.9 0 1,0 15.8,0a7.9,7.9 0 1,0 -15.8,0M1087.7,608.5m-7.9,0a7.9,7.9 0 1,0 15.8,0a7.9,7.9 0 1,0 -15.8,0M1100.5,611.7m-7.9,0a7.9,7.9 0 1,0 15.8,0a7.9,7.9 0 1,0 -15.8,0M1113.4,600m-7.9,0a7.9,7.9 0 1,0 15.8,0a7.9,7.9 0 1,0 -15.8,0M1126.2,611.7m-7.9,0a7.9,7.9 0 1,0 15.8,0a7.9,7.9 0 1,0 -15.8,0M1139.1,603.5m-7.9,0a7.9,7.9 0 1,0 15.8,0a7.9,7.9 0 1,0 -15.8,0M1151.9,609m-7.9,0a7.9,7.9 0 1,0 15.8,0a7.9,7.9 0 1,0 -15.8,0M1164.8,600m-7.9,0a7.9,7.9 0 1,0 15.8,0a7.9,7.9 0 1,0 -15.8,0M1177.6,603m-7.9,0a7.9,7.9 0 1,0 15.8,0a7.9,7.9 0 1,0 -15.8,0M1190.4,600.4m-7.9,0a7.9,7.9 0 1,0 15.8,0a7.9,7.9 0 1,0 -15.8,0M1203.3,603.5m-7.9,0a7.9,7.9 0 1,0 15.8,0a7.9,7.9 0 1,0 -15.8,0M1216.1,597.2m-7.9,0a7.9,7.9 0 1,0 15.8,0a7.9,7.9 0 1,0 -15.8,0M1229,598.3m-7.9,0a7.9,7.9 0 1,0 15.8,0a7.9,7.9 0 1,0 -15.8,0M1241.8,594.7m-7.9,0a7.9,7.9 0 1,0 15.8,0a7.9,7.9 0 1,0 -15.8,0M1254.7,601.4m-7.9,0a7.9,7.9 0 1,0 15.8,0a7.9,7.9 0 1,0 -15.8,0M1267.5,591.6m-7.9,0a7.9,7.9 0 1,0 15.8,0a7.9,7.9 0 1,0 -15.8,0M1280.4,603.5m-7.9,0a7.9,7.9 0 1,0 15.8,0a7.9,7.9 0 1,0 -15.8,0M1293.2,595.5m-7.9,0a7.9,7.9 0 1,0 15.8,0a7.9,7.9 0 1,0 -15.8,0" fill="#377eb8"/>
<polyline points="779.4,742.7 792.2,736.5 805.1,737.5 817.9,741.3 830.8,735.4 843.6,737.9 856.5,737.9 869.3,742.7 882.2,726.4 895,735.4 907.9,736.5 920.7,736.5 933.5,733.3 946.4,744 959.2,726.6 972.1,739.6 984.9,721.6 997.8,737.5 1010.6,717 1023.5,733.7 1036.3,677.7 1049.1,677.7 1062,657.3 1074.8,619.6 1087.7,597.6 1100.5,611.7 1113.4,606.4 1126.2,611.7 1139.1,607.3 1151.9,611.5 1164.8,615.9 1177.6,609.4 1190.4,611.5 1203.3,608.3 1216.1,616.7 1229,611.5 1241.8,607.3 1254.7,603 1267.5,613.5 1280.4,613.5 1293.2,605.2" fill="none" stroke="#377eb8" stroke-width="3.3" stroke-linejoin="round"/>
<path d="M779.4,742.7m-7.9,0a7.9,7.9 0 1,0 15.8,0a7.9,7.9 0 1,0 -15.8,0M792.2,736.5m-7.9,0a7.9,7.9 0 1,0 15.8,0a7.9,7.9 0 1,0 -15.8,0M805.1,737.5m-7.9,0a7.9,7.9 0 1,0 15.8,0a7.9,7.9 0 1,0 -15.8,0M817.9,741.3m-7.9,0a7.9,7.9 0 1,0 15.8,0a7.9,7.9 0 1,0 -15.8,0M830.8,735.4m-7.9,0a7.9,7.9 0 1,0 15.8,0a7.9,7.9 0 1,0 -15.8,0M843.6,737.9m-7.9,0a7.9,7.9 0 1,0 15.8,0a7.9,7.9 0 1,0 -15.8,0M856.5,737.9m-7.9,0a7.9,7.9 0 1,0 15.8,0a7.9,7.9 0 1,0 -15.8,0M869.3,742.7m-7.9,0a7.9,7.9 0 1,0 15.8,0a7.9,7.9 0 1,0 -15.8,0M882.2,726.4m-7.9,0a7.9,7.9 0 1,0 15.8,0a7.9,7.9 0 1,0 -15.8,0M895,735.4m-7.9,0a7.9,7.9 0 1,0 15.8,0a7.9,7.9 0 1,0 -15.8,0M907.9,736.5m-7.9,0a7.9,7.9 0 1,0 15.8,0a7.9,7.9 0 1,0 -15.8,0M920.7,736.5m-7.9,0a7.9,7.9 0 1,0 15.8,0a7.9,7.9 0 1,0 -15.8,0M933.5,733.3m-7.9,0a7.9,7.9 0 1,0 15.8,0a7.9,7.9 0 1,0 -15.8,0M946.4,744m-7.9,0a7.9,7.9 0 1,0 15.8,0a7.9,7.9 0 1,0 -15.8,0M959.2,726.6m-7.9,0a7.9,7.9 0 1,0 15.8,0a7.9,7.9 0 1,0 -15.8,0M972.1,739.6m-7.9,0a7.9,7.9 0 1,0 15.8,0a7.9,7.9 0 1,0 -15.8,0M984.9,721.6m-7.9,0a7.9,7.9 0 1,0 15.8,0a7.9,7.9 0 1,0 -15.8,0M997.8,737.5m-7.9,0a7.9,7.9 0 1,0 15.8,0a7.9,7.9 0 1,0 -15.8,0M1010.6,717m-7.9,0a7.9,7.9 0 1,0 15.8,0a7.9,7.9 0 1,0 -15.8,0M1023.5,733.7m-7.9,0a7.9,7.9 0 1,0 15.8,0a7.9,7.9 0 1,0 -15.8,0M1036.3,677.7m-7.9,0a7.9,7.9 0 1,0 15.8,0a7.9,7.9 0 1,0 -15.8,0M1049.1,677.7m-7.9,0a7.9,7.9 0 1,0 15.8,0a7.9,7.9 0 1,0 -15.8,0M1062,657.3m-7.9,0a7.9,7.9 0 1,0 15.8,0a7.9,7.9 0 1,0 -15.8,0M1074.8,619.6m-7.9,0a7.9,7.9 0 1,0 15.8,0a7.9,7.9 0 1,0 -15.8,0M1087.7,597.6m-7.9,0a7.9,7.9 0 1,0 15.8,0a7.9,7.9 0 1,0 -15.8,0M1100.5,611.7m-7.9,0a7.9,7.9 0 1,0 15.8,0a7.9,7.9 0 1,0 -15.8,0M1113.4,606.4m-7.9,0a7.9,7.9 0 1,0 15.8,0a7.9,7.9 0 1,0 -15.8,0M1126.2,611.7m-7.9,0a7.9,7.9 0 1,0 15.8,0a7.9,7.9 0 1,0 -15.8,0M1139.1,607.3m-7.9,0a7.9,7.9 0 1,0 15.8,0a7.9,7.9 0 1,0 -15.8,0M1151.9,611.5m-7.9,0a7.9,7.9 0 1,0 15.8,0a7.9,7.9 0 1,0 -15.8,0M1164.8,615.9m-7.9,0a7.9,7.9 0 1,0 15.8,0a7.9,7.9 0 1,0 -15.8,0M1177.6,609.4m-7.9,0a7.9,7.9 0 1,0 15.8,0a7.9,7.9 0 1,0 -15.8,0M1190.4,611.5m-7.9,0a7.9,7.9 0 1,0 15.8,0a7.9,7.9 0 1,0 -15.8,0M1203.3,608.3m-7.9,0a7.9,7.9 0 1,0 15.8,0a7.9,7.9 0 1,0 -15.8,0M1216.1,616.7m-7.9,0a7.9,7.9 0 1,0 15.8,0a7.9,7.9 0 1,0 -15.8,0M1229,611.5m-7.9,0a7.9,7.9 0 1,0 15.8,0a7.9,7.9 0 1,0 -15.8,0M1241.8,607.3m-7.9,0a7.9,7.9 0 1,0 15.8,0a7.9,7.9 0 1,0 -15.8,0M1254.7,603m-7.9,0a7.9,7.9 0 1,0 15.8,0a7.9,7.9 0 1,0 -15.8,0M1267.5,613.5m-7.9,0a7.9,7.9 0 1,0 15.8,0a7.9,7.9 0 1,0 -15.8,0M1280.4,613.5m-7.9,0a7.9,7.9 0 1,0 15.8,0a7.9,7.9 0 1,0 -15.8,0M1293.2,605.2m-7.9,0a7.9,7.9 0 1,0 15.8,0a7.9,7.9 0 1,0 -15.8,0" fill="#377eb8"/>
</g>
<g clip-path="url(#ctc)">
<polyline points="1450.8,506.1 1463.6,502.8 1476.5,500.8 1489.3,501.5 1502.1,498.1 1515,504.8 1527.8,499.5 1540.7,503.5 1553.5,504.8 1566.3,500.8 1579.2,498.1 1592,508.8 1604.8,500.8 1617.7,499.5 1630.5,499.5 1643.4,506.1 1656.2,501.3 1669,424.3 1681.9,165 1694.7,80.2 1707.5,151.2 1720.4,349.5 1733.2,495.6 1746.1,507 1758.9,506.5 1771.7,501.5 1784.6,503.5 1797.4,506.1 1810.2,503.5 1823.1,504.1 1835.9,505.5 1848.8,502.1 1861.6,505.5 1874.4,504.1 1887.3,506.1 1900.1,507.5 1913,494.8 1925.8,498.1 1938.6,504.1 1951.5,507.5 1964.3,504.8" fill="none" stroke="#e41a1c" stroke-width="3.3" stroke-linejoin="round"/>
<path d="M1450.8,506.1m-7.9,0a7.9,7.9 0 1,0 15.8,0a7.9,7.9 0 1,0 -15.8,0M1463.6,502.8m-7.9,0a7.9,7.9 0 1,0 15.8,0a7.9,7.9 0 1,0 -15.8,0M1476.5,500.8m-7.9,0a7.9,7.9 0 1,0 15.8,0a7.9,7.9 0 1,0 -15.8,0M1489.3,501.5m-7.9,0a7.9,7.9 0 1,0 15.8,0a7.9,7.9 0 1,0 -15.8,0M1502.1,498.1m-7.9,0a7.9,7.9 0 1,0 15.8,0a7.9,7.9 0 1,0 -15.8,0M1515,504.8m-7.9,0a7.9,7.9 0 1,0 15.8,0a7.9,7.9 0 1,0 -15.8,0M1527.8,499.5m-7.9,0a7.9,7.9 0 1,0 15.8,0a7.9,7.9 0 1,0 -15.8,0M1540.7,503.5m-7.9,0a7.9,7.9 0 1,0 15.8,0a7.9,7.9 0 1,0 -15.8,0M1553.5,504.8m-7.9,0a7.9,7.9 0 1,0 15.8,0a7.9,7.9 0 1,0 -15.8,0M1566.3,500.8m-7.9,0a7.9,7.9 0 1,0 15.8,0a7.9,7.9 0 1,0 -15.8,0M1579.2,498.1m-7.9,0a7.9,7.9 0 1,0 15.8,0a7.9,7.9 0 1,0 -15.8,0M1592,508.8m-7.9,0a7.9,7.9 0 1,0 15.8,0a7.9,7.9 0 1,0 -15.8,0M1604.8,500.8m-7.9,0a7.9,7.9 0 1,0 15.8,0a7.9,7.9 0 1,0 -15.8,0M1617.7,499.5m-7.9,0a7.9,7.9 0 1,0 15.8,0a7.9,7.9 0 1,0 -15.8,0M1630.5,499.5m-7.9,0a7.9,7.9 0 1,0 15.8,0a7.9,7.9 0 1,0 -15.8,0M1643.4,506.1m-7.9,0a7.9,7.9 0 1,0 15.8,0a7.9,7.9 0 1,0 -15.8,0M1656.2,501.3m-7.9,0a7.9,7.9 0 1,0 15.8,0a7.9,7.9 0 1,0 -15.8,0M1669,424.3m-7.9,0a7.9,7.9 0 1,0 15.8,0a7.9,7.9 0 1,0 -15.8,0M1681.9,165m-7.9,0a7.9,7.9 0 1,0 15.8,0a7.9,7.9 0 1,0 -15.8,0M1694.7,80.2m-7.9,0a7.9,7.9 0 1,0 15.8,0a7.9,7.9 0 1,0 -15.8,0M1707.5,151.2m-7.9,0a7.9,7.9 0 1,0 15.8,0a7.9,7.9 0 1,0 -15.8,0M1720.4,349.5m-7.9,0a7.9,7.9 0 1,0 15.8,0a7.9,7.9 0 1,0 -15.8,0M1733.2,495.6m-7.9,0a7.9,7.9 0 1,0 15.8,0a7.9,7.9 0 1,0 -15.8,0M1746.1,507m-7.9,0a7.9,7.9 0 1,0 15.8,0a7.9,7.9 0 1,0 -15.8,0M1758.9,506.5m-7.9,0a7.9,7.9 0 1,0 15.8,0a7.9,7.9 0 1,0 -15.8,0M1771.7,501.5m-7.9,0a7.9,7.9 0 1,0 15.8,0a7.9,7.9 0 1,0 -15.8,0M1784.6,503.5m-7.9,0a7.9,7.9 0 1,0 15.8,0a7.9,7.9 0 1,0 -15.8,0M1797.4,506.1m-7.9,0a7.9,7.9 0 1,0 15.8,0a7.9,7.9 0 1,0 -15.8,0M1810.2,503.5m-7.9,0a7.9,7.9 0 1,0 15.8,0a7.9,7.9 0 1,0 -15.8,0M1823.1,504.1m-7.9,0a7.9,7.9 0 1,0 15.8,0a7.9,7.9 0 1,0 -15.8,0M1835.9,505.5m-7.9,0a7.9,7.9 0 1,0 15.8,0a7.9,7.9 0 1,0 -15.8,0M1848.8,502.1m-7.9,0a7.9,7.9 0 1,0 15.8,0a7.9,7.9 0 1,0 -15.8,0M1861.6,505.5m-7.9,0a7.9,7.9 0 1,0 15.8,0a7.9,7.9 0 1,0 -15.8,0M1874.4,504.1m-7.9,0a7.9,7.9 0 1,0 15.8,0a7.9,7.9 0 1,0 -15.8,0M1887.3,506.1m-7.9,0a7.9,7.9 0 1,0 15.8,0a7.9,7.9 0 1,0 -15.8,0M1900.1,507.5m-7.9,0a7.9,7.9 0 1,0 15.8,0a7.9,7.9 0 1,0 -15.8,0M1913,494.8m-7.9,0a7.9,7.9 0 1,0 15.8,0a7.9,7.9 0 1,0 -15.8,0M1925.8,498.1m-7.9,0a7.9,7.9 0 1,0 15.8,0a7.9,7.9 0 1,0 -15.8,0M1938.6,504.1m-7.9,0a7.9,7.9 0 1,0 15.8,0a7.9,7.9 0 1,0 -15.8,0M1951.5,507.5m-7.9,0a7.9,7.9 0 1,0 15.8,0a7.9,7.9 0 1,0 -15.8,0M1964.3,504.8m-7.9,0a7.9,7.9 0 1,0 15.8,0a7.9,7.9 0 1,0 -15.8,0" fill="#e41a1c"/>
<polyline points="1450.8,511.2 1463.6,507.2 1476.5,502.5 1489.3,508.5 1502.1,501.9 1515,505.9 1527.8,505.2 1540.7,507.9 1553.5,511.9 1566.3,504.5 1579.2,505.9 1592,511.2 1604.8,511.2 1617.7,503.9 1630.5,505.2 1643.4,509.9 1656.2,505.2 1669,504.2 1681.9,461.6 1694.7,280 1707.5,111.2 1720.4,78.8 1733.2,213 1746.1,446.1 1758.9,499.9 1771.7,504.5 1784.6,503.9 1797.4,509.9 1810.2,509.2 1823.1,505.2 1835.9,508.5 1848.8,507.9 1861.6,505.9 1874.4,504.5 1887.3,507.2 1900.1,509.9 1913,506.5 1925.8,503.2 1938.6,504.5 1951.5,511.2 1964.3,507.2" fill="none" stroke="#e41a1c" stroke-width="3.3" stroke-linejoin="round"/>
<path d="M1450.8,511.2m-7.9,0a7.9,7.9 0 1,0 15.8,0a7.9,7.9 0 1,0 -15.8,0M1463.6,507.2m-7.9,0a7.9,7.9 0 1,0 15.8,0a7.9,7.9 0 1,0 -15.8,0M1476.5,502.5m-7.9,0a7.9,7.9 0 1,0 15.8,0a7.9,7.9 0 1,0 -15.8,0M1489.3,508.5m-7.9,0a7.9,7.9 0 1,0 15.8,0a7.9,7.9 0 1,0 -15.8,0M1502.1,501.9m-7.9,0a7.9,7.9 0 1,0 15.8,0a7.9,7.9 0 1,0 -15.8,0M1515,505.9m-7.9,0a7.9,7.9 0 1,0 15.8,0a7.9,7.9 0 1,0 -15.8,0M1527.8,505.2m-7.9,0a7.9,7.9 0 1,0 15.8,0a7.9,7.9 0 1,0 -15.8,0M1540.7,507.9m-7.9,0a7.9,7.9 0 1,0 15.8,0a7.9,7.9 0 1,0 -15.8,0M1553.5,511.9m-7.9,0a7.9,7.9 0 1,0 15.8,0a7.9,7.9 0 1,0 -15.8,0M1566.3,504.5m-7.9,0a7.9,7.9 0 1,0 15.8,0a7.9,7.9 0 1,0 -15.8,0M1579.2,505.9m-7.9,0a7.9,7.9 0 1,0 15.8,0a7.9,7.9 0 1,0 -15.8,0M1592,511.2m-7.9,0a7.9,7.9 0 1,0 15.8,0a7.9,7.9 0 1,0 -15.8,0M1604.8,511.2m-7.9,0a7.9,7.9 0 1,0 15.8,0a7.9,7.9 0 1,0 -15.8,0M1617.7,503.9m-7.9,0a7.9,7.9 0 1,0 15.8,0a7.9,7.9 0 1,0 -15.8,0M1630.5,505.2m-7.9,0a7.9,7.9 0 1,0 15.8,0a7.9,7.9 0 1,0 -15.8,0M1643.4,509.9m-7.9,0a7.9,7.9 0 1,0 15.8,0a7.9,7.9 0 1,0 -15.8,0M1656.2,505.2m-7.9,0a7.9,7.9 0 1,0 15.8,0a7.9,7.9 0 1,0 -15.8,0M1669,504.2m-7.9,0a7.9,7.9 0 1,0 15.8,0a7.9,7.9 0 1,0 -15.8,0M1681.9,461.6m-7.9,0a7.9,7.9 0 1,0 15.8,0a7.9,7.9 0 1,0 -15.8,0M1694.7,280m-7.9,0a7.9,7.9 0 1,0 15.8,0a7.9,7.9 0 1,0 -15.8,0M1707.5,111.2m-7.9,0a7.9,7.9 0 1,0 15.8,0a7.9,7.9 0 1,0 -15.8,0M1720.4,78.8m-7.9,0a7.9,7.9 0 1,0 15.8,0a7.9,7.9 0 1,0 -15.8,0M1733.2,213m-7.9,0a7.9,7.9 0 1,0 15.8,0a7.9,7.9 0 1,0 -15.8,0M1746.1,446.1m-7.9,0a7.9,7.9 0 1,0 15.8,0a7.9,7.9 0 1,0 -15.8,0M1758.9,499.9m-7.9,0a7.9,7.9 0 1,0 15.8,0a7.9,7.9 0 1,0 -15.8,0M1771.7,504.5m-7.9,0a7.9,7.9 0 1,0 15.8,0a7.9,7.9 0 1,0 -15.8,0M1784.6,503.9m-7.9,0a7.9,7.9 0 1,0 15.8,0a7.9,7.9 0 1,0 -15.8,0M1797.4,509.9m-7.9,0a7.9,7.9 0 1,0 15.8,0a7.9,7.9 0 1,0 -15.8,0M1810.2,509.2m-7.9,0a7.9,7.9 0 1,0 15.8,0a7.9,7.9 0 1,0 -15.8,0M1823.1,505.2m-7.9,0a7.9,7.9 0 1,0 15.8,0a7.9,7.9 0 1,0 -15.8,0M1835.9,508.5m-7.9,0a7.9,7.9 0 1,0 15.8,0a7.9,7.9 0 1,0 -15.8,0M1848.8,507.9m-7.9,0a7.9,7.9 0 1,0 15.8,0a7.9,7.9 0 1,0 -15.8,0M1861.6,505.9m-7.9,0a7.9,7.9 0 1,0 15.8,0a7.9,7.9 0 1,0 -15.8,0M1874.4,504.5m-7.9,0a7.9,7.9 0 1,0 15.8,0a7.9,7.9 0 1,0 -15.8,0M1887.3,507.2m-7.9,0a7.9,7.9 0 1,0 15.8,0a7.9,7.9 0 1,0 -15.8,0M1900.1,509.9m-7.9,0a7.9,7.9 0 1,0 15.8,0a7.9,7.9 0 1,0 -15.8,0M1913,506.5m-7.9,0a7.9,7.9 0 1,0 15.8,0a7.9,7.9 0 1,0 -15.8,0M1925.8,503.2m-7.9,0a7.9,7.9 0 1,0 15.8,0a7.9,7.9 0 1,0 -15.8,0M1938.6,504.5m-7.9,0a7.9,7.9 0 1,0 15.8,0a7.9,7.9 0 1,0 -15.8,0M1951.5,511.2m-7.9,0a7.9,7.9 0 1,0 15.8,0a7.9,7.9 0 1,0 -15.8,0M1964.3,507.2m-7.9,0a7.9,7.9 0 1,0 15.8,0a7.9,7.9 0 1,0 -15.8,0" fill="#e41a1c"/>
<polyline points="1450.8,44.8 1463.6,38.8 1476.5,41.5 1489.3,47.9 1502.1,39.5 1515,38.4 1527.8,47.9 1540.7,44.1 1553.5,40.1 1566.3,42.1 1579.2,50.1 1592,44.1 1604.8,42.8 1617.7,50.8 1630.5,57.5 1643.4,50.5 1656.2,54.8 1669,61.5 1681.9,65.5 1694.7,62.1 1707.5,66.1 1720.4,62.8 1733.2,51.5 1746.1,52.8 1758.9,50.8 1771.7,52.8 1784.6,44.8 1797.4,40.4 1810.2,45.5 1823.1,46.8 1835.9,39.5 1848.8,36.1 1861.6,41.5 1874.4,40.1 1887.3,41.5 1900.1,43.9 1913,47.5 1925.8,40.1 1938.6,37.5 1951.5,40.1 1964.3,44.8" fill="none" stroke="#377eb8" stroke-width="3.3" stroke-linejoin="round"/>
<path d="M1450.8,44.8m-7.9,0a7.9,7.9 0 1,0 15.8,0a7.9,7.9 0 1,0 -15.8,0M1463.6,38.8m-7.9,0a7.9,7.9 0 1,0 15.8,0a7.9,7.9 0 1,0 -15.8,0M1476.5,41.5m-7.9,0a7.9,7.9 0 1,0 15.8,0a7.9,7.9 0 1,0 -15.8,0M1489.3,47.9m-7.9,0a7.9,7.9 0 1,0 15.8,0a7.9,7.9 0 1,0 -15.8,0M1502.1,39.5m-7.9,0a7.9,7.9 0 1,0 15.8,0a7.9,7.9 0 1,0 -15.8,0M1515,38.4m-7.9,0a7.9,7.9 0 1,0 15.8,0a7.9,7.9 0 1,0 -15.8,0M1527.8,47.9m-7.9,0a7.9,7.9 0 1,0 15.8,0a7.9,7.9 0 1,0 -15.8,0M1540.7,44.1m-7.9,0a7.9,7.9 0 1,0 15.8,0a7.9,7.9 0 1,0 -15.8,0M1553.5,40.1m-7.9,0a7.9,7.9 0 1,0 15.8,0a7.9,7.9 0 1,0 -15.8,0M1566.3,42.1m-7.9,0a7.9,7.9 0 1,0 15.8,0a7.9,7.9 0 1,0 -15.8,0M1579.2,50.1m-7.9,0a7.9,7.9 0 1,0 15.8,0a7.9,7.9 0 1,0 -15.8,0M1592,44.1m-7.9,0a7.9,7.9 0 1,0 15.8,0a7.9,7.9 0 1,0 -15.8,0M1604.8,42.8m-7.9,0a7.9,7.9 0 1,0 15.8,0a7.9,7.9 0 1,0 -15.8,0M1617.7,50.8m-7.9,0a7.9,7.9 0 1,0 15.8,0a7.9,7.9 0 1,0 -15.8,0M1630.5,57.5m-7.9,0a7.9,7.9 0 1,0 15.8,0a7.9,7.9 0 1,0 -15.8,0M1643.4,50.5m-7.9,0a7.9,7.9 0 1,0 15.8,0a7.9,7.9 0 1,0 -15.8,0M1656.2,54.8m-7.9,0a7.9,7.9 0 1,0 15.8,0a7.9,7.9 0 1,0 -15.8,0M1669,61.5m-7.9,0a7.9,7.9 0 1,0 15.8,0a7.9,7.9 0 1,0 -15.8,0M1681.9,65.5m-7.9,0a7.9,7.9 0 1,0 15.8,0a7.9,7.9 0 1,0 -15.8,0M1694.7,62.1m-7.9,0a7.9,7.9 0 1,0 15.8,0a7.9,7.9 0 1,0 -15.8,0M1707.5,66.1m-7.9,0a7.9,7.9 0 1,0 15.8,0a7.9,7.9 0 1,0 -15.8,0M1720.4,62.8m-7.9,0a7.9,7.9 0 1,0 15.8,0a7.9,7.9 0 1,0 -15.8,0M1733.2,51.5m-7.9,0a7.9,7.9 0 1,0 15.8,0a7.9,7.9 0 1,0 -15.8,0M1746.1,52.8m-7.9,0a7.9,7.9 0 1,0 15.8,0a7.9,7.9 0 1,0 -15.8,0M1758.9,50.8m-7.9,0a7.9,7.9 0 1,0 15.8,0a7.9,7.9 0 1,0 -15.8,0M1771.7,52.8m-7.9,0a7.9,7.9 0 1,0 15.8,0a7.9,7.9 0 1,0 -15.8,0M1784.6,44.8m-7.9,0a7.9,7.9 0 1,0 15.8,0a7.9,7.9 0 1,0 -15.8,0M1797.4,40.4m-7.9,0a7.9,7.9 0 1,0 15.8,0a7.9,7.9 0 1,0 -15.8,0M1810.2,45.5m-7.9,0a7.9,7.9 0 1,0 15.8,0a7.9,7.9 0 1,0 -15.8,0M1823.1,46.8m-7.9,0a7.9,7.9 0 1,0 15.8,0a7.9,7.9 0 1,0 -15.8,0M1835.9,39.5m-7.9,0a7.9,7.9 0 1,0 15.8,0a7.9,7.9 0 1,0 -15.8,0M1848.8,36.1m-7.9,0a7.9,7.9 0 1,0 15.8,0a7.9,7.9 0 1,0 -15.8,0M1861.6,41.5m-7.9,0a7.9,7.9 0 1,0 15.8,0a7.9,7.9 0 1,0 -15.8,0M1874.4,40.1m-7.9,0a7.9,7.9 0 1,0 15.8,0a7.9,7.9 0 1,0 -15.8,0M1887.3,41.5m-7.9,0a7.9,7.9 0 1,0 15.8,0a7.9,7.9 0 1,0 -15.8,0M1900.1,43.9m-7.9,0a7.9,7.9 0 1,0 15.8,0a7.9,7.9 0 1,0 -15.8,0M1913,47.5m-7.9,0a7.9,7.9 0 1,0 15.8,0a7.9,7.9 0 1,0 -15.8,0M1925.8,40.1m-7.9,0a7.9,7.9 0 1,0 15.8,0a7.9,7.9 0 1,0 -15.8,0M1938.6,37.5m-7.9,0a7.9,7.9 0 1,0 15.8,0a7.9,7.9 0 1,0 -15.8,0M1951.5,40.1m-7.9,0a7.9,7.9 0 1,0 15.8,0a7.9,7.9 0 1,0 -15.8,0M1964.3,44.8m-7.9,0a7.9,7.9 0 1,0 15.8,0a7.9,7.9 0 1,0 -15.8,0" fill="#377eb8"/>
<polyline points="1450.8,45.9 1463.6,46.5 1476.5,49.9 1489.3,50.5 1502.1,42.5 1515,40.5 1527.8,49.9 1540.7,44.5 1553.5,42.5 1566.3,45.2 1579.2,52.5 1592,47.2 1604.8,46.5 1617.7,53.9 1630.5,59.2 1643.4,53.2 1656.2,56.5 1669,62.5 1681.9,71.9 1694.7,74.5 1707.5,76.5 1720.4,75.9 1733.2,63.2 1746.1,53.9 1758.9,58.5 1771.7,55.2 1784.6,45.9 1797.4,43.9 1810.2,49.2 1823.1,51.2 1835.9,43.9 1848.8,44.5 1861.6,49.9 1874.4,51.9 1887.3,45.9 1900.1,45.2 1913,51.2 1925.8,51.2 1938.6,42.5 1951.5,53.2 1964.3,53.9" fill="none" stroke="#377eb8" stroke-width="3.3" stroke-linejoin="round"/>
<path d="M1450.8,45.9m-7.9,0a7.9,7.9 0 1,0 15.8,0a7.9,7.9 0 1,0 -15.8,0M1463.6,46.5m-7.9,0a7.9,7.9 0 1,0 15.8,0a7.9,7.9 0 1,0 -15.8,0M1476.5,49.9m-7.9,0a7.9,7.9 0 1,0 15.8,0a7.9,7.9 0 1,0 -15.8,0M1489.3,50.5m-7.9,0a7.9,7.9 0 1,0 15.8,0a7.9,7.9 0 1,0 -15.8,0M1502.1,42.5m-7.9,0a7.9,7.9 0 1,0 15.8,0a7.9,7.9 0 1,0 -15.8,0M1515,40.5m-7.9,0a7.9,7.9 0 1,0 15.8,0a7.9,7.9 0 1,0 -15.8,0M1527.8,49.9m-7.9,0a7.9,7.9 0 1,0 15.8,0a7.9,7.9 0 1,0 -15.8,0M1540.7,44.5m-7.9,0a7.9,7.9 0 1,0 15.8,0a7.9,7.9 0 1,0 -15.8,0M1553.5,42.5m-7.9,0a7.9,7.9 0 1,0 15.8,0a7.9,7.9 0 1,0 -15.8,0M1566.3,45.2m-7.9,0a7.9,7.9 0 1,0 15.8,0a7.9,7.9 0 1,0 -15.8,0M1579.2,52.5m-7.9,0a7.9,7.9 0 1,0 15.8,0a7.9,7.9 0 1,0 -15.8,0M1592,47.2m-7.9,0a7.9,7.9 0 1,0 15.8,0a7.9,7.9 0 1,0 -15.8,0M1604.8,46.5m-7.9,0a7.9,7.9 0 1,0 15.8,0a7.9,7.9 0 1,0 -15.8,0M1617.7,53.9m-7.9,0a7.9,7.9 0 1,0 15.8,0a7.9,7.9 0 1,0 -15.8,0M1630.5,59.2m-7.9,0a7.9,7.9 0 1,0 15.8,0a7.9,7.9 0 1,0 -15.8,0M1643.4,53.2m-7.9,0a7.9,7.9 0 1,0 15.8,0a7.9,7.9 0 1,0 -15.8,0M1656.2,56.5m-7.9,0a7.9,7.9 0 1,0 15.8,0a7.9,7.9 0 1,0 -15.8,0M1669,62.5m-7.9,0a7.9,7.9 0 1,0 15.8,0a7.9,7.9 0 1,0 -15.8,0M1681.9,71.9m-7.9,0a7.9,7.9 0 1,0 15.8,0a7.9,7.9 0 1,0 -15.8,0M1694.7,74.5m-7.9,0a7.9,7.9 0 1,0 15.8,0a7.9,7.9 0 1,0 -15.8,0M1707.5,76.5m-7.9,0a7.9,7.9 0 1,0 15.8,0a7.9,7.9 0 1,0 -15.8,0M1720.4,75.9m-7.9,0a7.9,7.9 0 1,0 15.8,0a7.9,7.9 0 1,0 -15.8,0M1733.2,63.2m-7.9,0a7.9,7.9 0 1,0 15.8,0a7.9,7.9 0 1,0 -15.8,0M1746.1,53.9m-7.9,0a7.9,7.9 0 1,0 15.8,0a7.9,7.9 0 1,0 -15.8,0M1758.9,58.5m-7.9,0a7.9,7.9 0 1,0 15.8,0a7.9,7.9 0 1,0 -15.8,0M1771.7,55.2m-7.9,0a7.9,7.9 0 1,0 15.8,0a7.9,7.9 0 1,0 -15.8,0M1784.6,45.9m-7.9,0a7.9,7.9 0 1,0 15.8,0a7.9,7.9 0 1,0 -15.8,0M1797.4,43.9m-7.9,0a7.9,7.9 0 1,0 15.8,0a7.9,7.9 0 1,0 -15.8,0M1810.2,49.2m-7.9,0a7.9,7.9 0 1,0 15.8,0a7.9,7.9 0 1,0 -15.8,0M1823.1,51.2m-7.9,0a7.9,7.9 0 1,0 15.8,0a7.9,7.9 0 1,0 -15.8,0M1835.9,43.9m-7.9,0a7.9,7.9 0 1,0 15.8,0a7.9,7.9 0 1,0 -15.8,0M1848.8,44.5m-7.9,0a7.9,7.9 0 1,0 15.8,0a7.9,7.9 0 1,0 -15.8,0M1861.6,49.9m-7.9,0a7.9,7.9 0 1,0 15.8,0a7.9,7.9 0 1,0 -15.8,0M1874.4,51.9m-7.9,0a7.9,7.9 0 1,0 15.8,0a7.9,7.9 0 1,0 -15.8,0M1887.3,45.9m-7.9,0a7.9,7.9 0 1,0 15.8,0a7.9,7.9 0 1,0 -15.8,0M1900.1,45.2m-7.9,0a7.9,7.9 0 1,0 15.8,0a7.9,7.9 0 1,0 -15.8,0M1913,51.2m-7.9,0a7.9,7.9 0 1,0 15.8,0a7.9,7.9 0 1,0 -15.8,0M1925.8,51.2m-7.9,0a7.9,7.9 0 1,0 15.8,0a7.9,7.9 0 1,0 -15.8,0M1938.6,42.5m-7.9,0a7.9,7.9 0 1,0 15.8,0a7.9,7.9 0 1,0 -15.8,0M1951.5,53.2m-7.9,0a7.9,7.9 0 1,0 15.8,0a7.9,7.9 0 1,0 -15.8,0M1964.3,53.9m-7.9,0a7.9,7.9 0 1,0 15.8,0a7.9,7.9 0 1,0 -15.8,0" fill="#377eb8"/>
</g>
<g clip-path="url(#cbc)">
<polyline points="1450.8,730.8 1463.6,723.2 1476.5,731.6 1489.3,718.6 1502.1,723.2 1515,729.5 1527.8,725.8 1540.7,721.2 1553.5,720.7 1566.3,723.9 1579.2,723.2 1592,730.8 1604.8,718 1617.7,718.6 1630.5,714.5 1643.4,720.1 1656.2,711.5 1669,725.8 1681.9,715.9 1694.7,710.5 1707.5,612.3 1720.4,611.7 1733.2,611 1746.1,613 1758.9,605.4 1771.7,605.4 1784.6,593.9 1797.4,602.4 1810.2,598.3 1823.1,596.2 1835.9,600.4 1848.8,595.1 1861.6,603.3 1874.4,606.6 1887.3,602.4 1900.1,599.3 1913,599.3 1925.8,594.1 1938.6,600.4 1951.5,598.3 1964.3,596.2" fill="none" stroke="#377eb8" stroke-width="3.3" stroke-linejoin="round"/>
<path d="M1450.8,730.8m-7.9,0a7.9,7.9 0 1,0 15.8,0a7.9,7.9 0 1,0 -15.8,0M1463.6,723.2m-7.9,0a7.9,7.9 0 1,0 15.8,0a7.9,7.9 0 1,0 -15.8,0M1476.5,731.6m-7.9,0a7.9,7.9 0 1,0 15.8,0a7.9,7.9 0 1,0 -15.8,0M1489.3,718.6m-7.9,0a7.9,7.9 0 1,0 15.8,0a7.9,7.9 0 1,0 -15.8,0M1502.1,723.2m-7.9,0a7.9,7.9 0 1,0 15.8,0a7.9,7.9 0 1,0 -15.8,0M1515,729.5m-7.9,0a7.9,7.9 0 1,0 15.8,0a7.9,7.9 0 1,0 -15.8,0M1527.8,725.8m-7.9,0a7.9,7.9 0 1,0 15.8,0a7.9,7.9 0 1,0 -15.8,0M1540.7,721.2m-7.9,0a7.9,7.9 0 1,0 15.8,0a7.9,7.9 0 1,0 -15.8,0M1553.5,720.7m-7.9,0a7.9,7.9 0 1,0 15.8,0a7.9,7.9 0 1,0 -15.8,0M1566.3,723.9m-7.9,0a7.9,7.9 0 1,0 15.8,0a7.9,7.9 0 1,0 -15.8,0M1579.2,723.2m-7.9,0a7.9,7.9 0 1,0 15.8,0a7.9,7.9 0 1,0 -15.8,0M1592,730.8m-7.9,0a7.9,7.9 0 1,0 15.8,0a7.9,7.9 0 1,0 -15.8,0M1604.8,718m-7.9,0a7.9,7.9 0 1,0 15.8,0a7.9,7.9 0 1,0 -15.8,0M1617.7,718.6m-7.9,0a7.9,7.9 0 1,0 15.8,0a7.9,7.9 0 1,0 -15.8,0M1630.5,714.5m-7.9,0a7.9,7.9 0 1,0 15.8,0a7.9,7.9 0 1,0 -15.8,0M1643.4,720.1m-7.9,0a7.9,7.9 0 1,0 15.8,0a7.9,7.9 0 1,0 -15.8,0M1656.2,711.5m-7.9,0a7.9,7.9 0 1,0 15.8,0a7.9,7.9 0 1,0 -15.8,0M1669,725.8m-7.9,0a7.9,7.9 0 1,0 15.8,0a7.9,7.9 0 1,0 -15.8,0M1681.9,715.9m-7.9,0a7.9,7.9 0 1,0 15.8,0a7.9,7.9 0 1,0 -15.8,0M1694.7,710.5m-7.9,0a7.9,7.9 0 1,0 15.8,0a7.9,7.9 0 1,0 -15.8,0M1707.5,612.3m-7.9,0a7.9,7.9 0 1,0 15.8,0a7.9,7.9 0 1,0 -15.8,0M1720.4,611.7m-7.9,0a7.9,7.9 0 1,0 15.8,0a7.9,7.9 0 1,0 -15.8,0M1733.2,611m-7.9,0a7.9,7.9 0 1,0 15.8,0a7.9,7.9 0 1,0 -15.8,0M1746.1,613m-7.9,0a7.9,7.9 0 1,0 15.8,0a7.9,7.9 0 1,0 -15.8,0M1758.9,605.4m-7.9,0a7.9,7.9 0 1,0 15.8,0a7.9,7.9 0 1,0 -15.8,0M1771.7,605.4m-7.9,0a7.9,7.9 0 1,0 15.8,0a7.9,7.9 0 1,0 -15.8,0M1784.6,593.9m-7.9,0a7.9,7.9 0 1,0 15.8,0a7.9,7.9 0 1,0 -15.8,0M1797.4,602.4m-7.9,0a7.9,7.9 0 1,0 15.8,0a7.9,7.9 0 1,0 -15.8,0M1810.2,598.3m-7.9,0a7.9,7.9 0 1,0 15.8,0a7.9,7.9 0 1,0 -15.8,0M1823.1,596.2m-7.9,0a7.9,7.9 0 1,0 15.8,0a7.9,7.9 0 1,0 -15.8,0M1835.9,600.4m-7.9,0a7.9,7.9 0 1,0 15.8,0a7.9,7.9 0 1,0 -15.8,0M1848.8,595.1m-7.9,0a7.9,7.9 0 1,0 15.8,0a7.9,7.9 0 1,0 -15.8,0M1861.6,603.3m-7.9,0a7.9,7.9 0 1,0 15.8,0a7.9,7.9 0 1,0 -15.8,0M1874.4,606.6m-7.9,0a7.9,7.9 0 1,0 15.8,0a7.9,7.9 0 1,0 -15.8,0M1887.3,602.4m-7.9,0a7.9,7.9 0 1,0 15.8,0a7.9,7.9 0 1,0 -15.8,0M1900.1,599.3m-7.9,0a7.9,7.9 0 1,0 15.8,0a7.9,7.9 0 1,0 -15.8,0M1913,599.3m-7.9,0a7.9,7.9 0 1,0 15.8,0a7.9,7.9 0 1,0 -15.8,0M1925.8,594.1m-7.9,0a7.9,7.9 0 1,0 15.8,0a7.9,7.9 0 1,0 -15.8,0M1938.6,600.4m-7.9,0a7.9,7.9 0 1,0 15.8,0a7.9,7.9 0 1,0 -15.8,0M1951.5,598.3m-7.9,0a7.9,7.9 0 1,0 15.8,0a7.9,7.9 0 1,0 -15.8,0M1964.3,596.2m-7.9,0a7.9,7.9 0 1,0 15.8,0a7.9,7.9 0 1,0 -15.8,0" fill="#377eb8"/>
<polyline points="1450.8,730.8 1463.6,728.1 1476.5,734.4 1489.3,724.9 1502.1,732.3 1515,737.5 1527.8,731.2 1540.7,731.6 1553.5,735.4 1566.3,728.1 1579.2,732.3 1592,730.8 1604.8,721.8 1617.7,736.2 1630.5,724.9 1643.4,727 1656.2,729.3 1669,725.8 1681.9,718.6 1694.7,724.1 1707.5,710.1 1720.4,620.7 1733.2,611 1746.1,615 1758.9,605.4 1771.7,619.6 1784.6,610.6 1797.4,610.4 1810.2,612.5 1823.1,608.3 1835.9,616.7 1848.8,605.2 1861.6,603.3 1874.4,608.3 1887.3,606.2 1900.1,605.2 1913,613.5 1925.8,610.4 1938.6,609.4 1951.5,604.1 1964.3,609.4" fill="none" stroke="#377eb8" stroke-width="3.3" stroke-linejoin="round"/>
<path d="M1450.8,730.8m-7.9,0a7.9,7.9 0 1,0 15.8,0a7.9,7.9 0 1,0 -15.8,0M1463.6,728.1m-7.9,0a7.9,7.9 0 1,0 15.8,0a7.9,7.9 0 1,0 -15.8,0M1476.5,734.4m-7.9,0a7.9,7.9 0 1,0 15.8,0a7.9,7.9 0 1,0 -15.8,0M1489.3,724.9m-7.9,0a7.9,7.9 0 1,0 15.8,0a7.9,7.9 0 1,0 -15.8,0M1502.1,732.3m-7.9,0a7.9,7.9 0 1,0 15.8,0a7.9,7.9 0 1,0 -15.8,0M1515,737.5m-7.9,0a7.9,7.9 0 1,0 15.8,0a7.9,7.9 0 1,0 -15.8,0M1527.8,731.2m-7.9,0a7.9,7.9 0 1,0 15.8,0a7.9,7.9 0 1,0 -15.8,0M1540.7,731.6m-7.9,0a7.9,7.9 0 1,0 15.8,0a7.9,7.9 0 1,0 -15.8,0M1553.5,735.4m-7.9,0a7.9,7.9 0 1,0 15.8,0a7.9,7.9 0 1,0 -15.8,0M1566.3,728.1m-7.9,0a7.9,7.9 0 1,0 15.8,0a7.9,7.9 0 1,0 -15.8,0M1579.2,732.3m-7.9,0a7.9,7.9 0 1,0 15.8,0a7.9,7.9 0 1,0 -15.8,0M1592,730.8m-7.9,0a7.9,7.9 0 1,0 15.8,0a7.9,7.9 0 1,0 -15.8,0M1604.8,721.8m-7.9,0a7.9,7.9 0 1,0 15.8,0a7.9,7.9 0 1,0 -15.8,0M1617.7,736.2m-7.9,0a7.9,7.9 0 1,0 15.8,0a7.9,7.9 0 1,0 -15.8,0M1630.5,724.9m-7.9,0a7.9,7.9 0 1,0 15.8,0a7.9,7.9 0 1,0 -15.8,0M1643.4,727m-7.9,0a7.9,7.9 0 1,0 15.8,0a7.9,7.9 0 1,0 -15.8,0M1656.2,729.3m-7.9,0a7.9,7.9 0 1,0 15.8,0a7.9,7.9 0 1,0 -15.8,0M1669,725.8m-7.9,0a7.9,7.9 0 1,0 15.8,0a7.9,7.9 0 1,0 -15.8,0M1681.9,718.6m-7.9,0a7.9,7.9 0 1,0 15.8,0a7.9,7.9 0 1,0 -15.8,0M1694.7,724.1m-7.9,0a7.9,7.9 0 1,0 15.8,0a7.9,7.9 0 1,0 -15.8,0M1707.5,710.1m-7.9,0a7.9,7.9 0 1,0 15.8,0a7.9,7.9 0 1,0 -15.8,0M1720.4,620.7m-7.9,0a7.9,7.9 0 1,0 15.8,0a7.9,7.9 0 1,0 -15.8,0M1733.2,611m-7.9,0a7.9,7.9 0 1,0 15.8,0a7.9,7.9 0 1,0 -15.8,0M1746.1,615m-7.9,0a7.9,7.9 0 1,0 15.8,0a7.9,7.9 0 1,0 -15.8,0M1758.9,605.4m-7.9,0a7.9,7.9 0 1,0 15.8,0a7.9,7.9 0 1,0 -15.8,0M1771.7,619.6m-7.9,0a7.9,7.9 0 1,0 15.8,0a7.9,7.9 0 1,0 -15.8,0M1784.6,610.6m-7.9,0a7.9,7.9 0 1,0 15.8,0a7.9,7.9 0 1,0 -15.8,0M1797.4,610.4m-7.9,0a7.9,7.9 0 1,0 15.8,0a7.9,7.9 0 1,0 -15.8,0M1810.2,612.5m-7.9,0a7.9,7.9 0 1,0 15.8,0a7.9,7.9 0 1,0 -15.8,0M1823.1,608.3m-7.9,0a7.9,7.9 0 1,0 15.8,0a7.9,7.9 0 1,0 -15.8,0M1835.9,616.7m-7.9,0a7.9,7.9 0 1,0 15.8,0a7.9,7.9 0 1,0 -15.8,0M1848.8,605.2m-7.9,0a7.9,7.9 0 1,0 15.8,0a7.9,7.9 0 1,0 -15.8,0M1861.6,603.3m-7.9,0a7.9,7.9 0 1,0 15.8,0a7.9,7.9 0 1,0 -15.8,0M1874.4,608.3m-7.9,0a7.9,7.9 0 1,0 15.8,0a7.9,7.9 0 1,0 -15.8,0M1887.3,606.2m-7.9,0a7.9,7.9 0 1,0 15.8,0a7.9,7.9 0 1,0 -15.8,0M1900.1,605.2m-7.9,0a7.9,7.9 0 1,0 15.8,0a7.9,7.9 0 1,0 -15.8,0M1913,613.5m-7.9,0a7.9,7.9 0 1,0 15.8,0a7.9,7.9 0 1,0 -15.8,0M1925.8,610.4m-7.9,0a7.9,7.9 0 1,0 15.8,0a7.9,7.9 0 1,0 -15.8,0M1938.6,609.4m-7.9,0a7.9,7.9 0 1,0 15.8,0a7.9,7.9 0 1,0 -15.8,0M1951.5,604.1m-7.9,0a7.9,7.9 0 1,0 15.8,0a7.9,7.9 0 1,0 -15.8,0M1964.3,609.4m-7.9,0a7.9,7.9 0 1,0 15.8,0a7.9,7.9 0 1,0 -15.8,0" fill="#377eb8"/>
</g>
<path d="M114,543.1v-7.5 M114,8v7.5 M242.4,543.1v-7.5 M242.4,8v7.5 M370.9,543.1v-7.5 M370.9,8v7.5 M499.3,543.1v-7.5 M499.3,8v7.5 M627.7,543.1v-7.5 M627.7,8v7.5 M114,518.2h7.5 M627.7,518.2h-7.5 M114,421h7.5 M627.7,421h-7.5 M114,323.7h7.5 M627.7,323.7h-7.5 M114,226.5h7.5 M627.7,226.5h-7.5 M114,129.2h7.5 M627.7,129.2h-7.5 M114,32h7.5 M627.7,32h-7.5 " stroke="#000" stroke-width="1.6" fill="none"/>
<rect x="114" y="8" width="513.7" height="535.1" fill="none" stroke="#000" stroke-width="1.8"/>
<text x="105.7" y="528.8" text-anchor="end" font-size="27.7">0.0</text>
<text x="105.7" y="431.6" text-anchor="end" font-size="27.7">0.2</text>
<text x="105.7" y="334.3" text-anchor="end" font-size="27.7">0.4</text>
<text x="105.7" y="237.1" text-anchor="end" font-size="27.7">0.6</text>
<text x="105.7" y="139.8" text-anchor="end" font-size="27.7">0.8</text>
<text x="105.7" y="42.6" text-anchor="end" font-size="27.7">1.0</text>
<path d="M114,757v-7.5 M114,579v7.5 M242.4,757v-7.5 M242.4,579v7.5 M370.9,757v-7.5 M370.9,579v7.5 M499.3,757v-7.5 M499.3,579v7.5 M627.7,757v-7.5 M627.7,579v7.5 M114,751.5h7.5 M627.7,751.5h-7.5 M114,669.5h7.5 M627.7,669.5h-7.5 M114,587.2h7.5 M627.7,587.2h-7.5 " stroke="#000" stroke-width="1.6" fill="none"/>
<rect x="114" y="579" width="513.7" height="178" fill="none" stroke="#000" stroke-width="1.8"/>
<text x="105.7" y="762.1" text-anchor="end" font-size="27.7">−1</text>
<text x="105.7" y="680.1" text-anchor="end" font-size="27.7">0</text>
<text x="105.7" y="597.8" text-anchor="end" font-size="27.7">1</text>
<text x="114" y="786.2" text-anchor="middle" font-size="27.7">−20</text>
<text x="242.4" y="786.2" text-anchor="middle" font-size="27.7">−10</text>
<text x="370.9" y="786.2" text-anchor="middle" font-size="27.7">0</text>
<text x="499.3" y="786.2" text-anchor="middle" font-size="27.7">10</text>
<text x="627.7" y="786.2" text-anchor="middle" font-size="27.7">20</text>
<text x="370.9" y="827.3" text-anchor="middle" font-size="35.0">Field Strength (mT)</text>
<text transform="translate(31.8,359.6) rotate(-90)" font-size="35.0">R<tspan font-size="24.1" dy="5.1" dx="1.0">1</tspan><tspan font-size="26.3" dy="0.5" dx="-0.3">ω</tspan><tspan dy="-5.6" dx="-1.0">/R</tspan><tspan font-size="24.1" dy="5.1" dx="0.7">1max</tspan></text>
<text transform="translate(30.2,752.7) rotate(-90)" font-size="35.0">R<tspan font-size="24.1" dy="5.1" dx="1.0">2</tspan><tspan font-size="25.6" dy="0.5" dx="0.3">ω</tspan><tspan dy="-5.6" dx="-1.0">/R</tspan><tspan font-size="24.1" dy="5.1" dx="0.7">2max</tspan></text>
<rect x="131.3" y="219.5" width="186.2" height="111.9" rx="6" ry="6" fill="#fff" fill-opacity="0.8" stroke="#d5d5d5" stroke-width="2.6"/>
<path d="M143.2,247.4h72.4" stroke="#e41a1c" stroke-width="3.3"/>
<circle cx="179.4" cy="247.4" r="7.9" fill="#e41a1c"/>
<text x="241.4" y="256.9" font-size="35.0">0°</text>
<path d="M143.2,298h72.4" stroke="#377eb8" stroke-width="3.3"/>
<circle cx="179.4" cy="298" r="7.9" fill="#377eb8"/>
<text x="241.4" y="307.5" font-size="35.0">90°</text>
<rect x="131.3" y="595.9" width="186.2" height="61.3" rx="6" ry="6" fill="#fff" fill-opacity="0.8" stroke="#d5d5d5" stroke-width="2.6"/>
<path d="M143.2,623.8h72.4" stroke="#377eb8" stroke-width="3.3"/>
<circle cx="179.4" cy="623.8" r="7.9" fill="#377eb8"/>
<text x="241.4" y="633.3" font-size="35.0">90°</text>
<path d="M778.4,543.1v-7.5 M778.4,8v7.5 M906.9,543.1v-7.5 M906.9,8v7.5 M1035.3,543.1v-7.5 M1035.3,8v7.5 M1163.8,543.1v-7.5 M1163.8,8v7.5 M1292.2,543.1v-7.5 M1292.2,8v7.5 M778.4,518.2h7.5 M1292.2,518.2h-7.5 M778.4,421h7.5 M1292.2,421h-7.5 M778.4,323.7h7.5 M1292.2,323.7h-7.5 M778.4,226.5h7.5 M1292.2,226.5h-7.5 M778.4,129.2h7.5 M1292.2,129.2h-7.5 M778.4,32h7.5 M1292.2,32h-7.5 " stroke="#000" stroke-width="1.6" fill="none"/>
<rect x="778.4" y="8" width="513.8" height="535.1" fill="none" stroke="#000" stroke-width="1.8"/>
<text x="770.1" y="528.8" text-anchor="end" font-size="27.7">0.0</text>
<text x="770.1" y="431.6" text-anchor="end" font-size="27.7">0.2</text>
<text x="770.1" y="334.3" text-anchor="end" font-size="27.7">0.4</text>
<text x="770.1" y="237.1" text-anchor="end" font-size="27.7">0.6</text>
<text x="770.1" y="139.8" text-anchor="end" font-size="27.7">0.8</text>
<text x="770.1" y="42.6" text-anchor="end" font-size="27.7">1.0</text>
<path d="M778.4,757v-7.5 M778.4,579v7.5 M906.9,757v-7.5 M906.9,579v7.5 M1035.3,757v-7.5 M1035.3,579v7.5 M1163.8,757v-7.5 M1163.8,579v7.5 M1292.2,757v-7.5 M1292.2,579v7.5 M778.4,752.2h7.5 M1292.2,752.2h-7.5 M778.4,669.7h7.5 M1292.2,669.7h-7.5 M778.4,587.2h7.5 M1292.2,587.2h-7.5 " stroke="#000" stroke-width="1.6" fill="none"/>
<rect x="778.4" y="579" width="513.8" height="178" fill="none" stroke="#000" stroke-width="1.8"/>
<text x="770.1" y="762.8" text-anchor="end" font-size="27.7">−1</text>
<text x="770.1" y="680.3" text-anchor="end" font-size="27.7">0</text>
<text x="770.1" y="597.8" text-anchor="end" font-size="27.7">1</text>
<text x="778.4" y="786.2" text-anchor="middle" font-size="27.7">−20</text>
<text x="906.9" y="786.2" text-anchor="middle" font-size="27.7">−10</text>
<text x="1035.3" y="786.2" text-anchor="middle" font-size="27.7">0</text>
<text x="1163.8" y="786.2" text-anchor="middle" font-size="27.7">10</text>
<text x="1292.2" y="786.2" text-anchor="middle" font-size="27.7">20</text>
<text x="1035.3" y="827.3" text-anchor="middle" font-size="35.0">Field Strength (mT)</text>
<text transform="translate(696.2,359.6) rotate(-90)" font-size="35.0">R<tspan font-size="24.1" dy="5.1" dx="1.0">1</tspan><tspan font-size="26.3" dy="0.5" dx="-0.3">ω</tspan><tspan dy="-5.6" dx="-1.0">/R</tspan><tspan font-size="24.1" dy="5.1" dx="0.7">1max</tspan></text>
<text transform="translate(694.6,752.7) rotate(-90)" font-size="35.0">R<tspan font-size="24.1" dy="5.1" dx="1.0">2</tspan><tspan font-size="25.6" dy="0.5" dx="0.3">ω</tspan><tspan dy="-5.6" dx="-1.0">/R</tspan><tspan font-size="24.1" dy="5.1" dx="0.7">2max</tspan></text>
<rect x="795.7" y="219.5" width="186.2" height="111.9" rx="6" ry="6" fill="#fff" fill-opacity="0.8" stroke="#d5d5d5" stroke-width="2.6"/>
<path d="M807.6,247.4h72.4" stroke="#e41a1c" stroke-width="3.3"/>
<circle cx="843.8" cy="247.4" r="7.9" fill="#e41a1c"/>
<text x="905.8" y="256.9" font-size="35.0">0°</text>
<path d="M807.6,298h72.4" stroke="#377eb8" stroke-width="3.3"/>
<circle cx="843.8" cy="298" r="7.9" fill="#377eb8"/>
<text x="905.8" y="307.5" font-size="35.0">90°</text>
<rect x="795.7" y="595.9" width="186.2" height="61.3" rx="6" ry="6" fill="#fff" fill-opacity="0.8" stroke="#d5d5d5" stroke-width="2.6"/>
<path d="M807.6,623.8h72.4" stroke="#377eb8" stroke-width="3.3"/>
<circle cx="843.8" cy="623.8" r="7.9" fill="#377eb8"/>
<text x="905.8" y="633.3" font-size="35.0">90°</text>
<path d="M1449.8,543.1v-7.5 M1449.8,8v7.5 M1578.2,543.1v-7.5 M1578.2,8v7.5 M1706.5,543.1v-7.5 M1706.5,8v7.5 M1834.9,543.1v-7.5 M1834.9,8v7.5 M1963.3,543.1v-7.5 M1963.3,8v7.5 M1449.8,518.2h7.5 M1963.3,518.2h-7.5 M1449.8,421h7.5 M1963.3,421h-7.5 M1449.8,323.7h7.5 M1963.3,323.7h-7.5 M1449.8,226.5h7.5 M1963.3,226.5h-7.5 M1449.8,129.2h7.5 M1963.3,129.2h-7.5 M1449.8,32h7.5 M1963.3,32h-7.5 " stroke="#000" stroke-width="1.6" fill="none"/>
<rect x="1449.8" y="8" width="513.5" height="535.1" fill="none" stroke="#000" stroke-width="1.8"/>
<text x="1441.5" y="528.8" text-anchor="end" font-size="27.7">0.0</text>
<text x="1441.5" y="431.6" text-anchor="end" font-size="27.7">0.2</text>
<text x="1441.5" y="334.3" text-anchor="end" font-size="27.7">0.4</text>
<text x="1441.5" y="237.1" text-anchor="end" font-size="27.7">0.6</text>
<text x="1441.5" y="139.8" text-anchor="end" font-size="27.7">0.8</text>
<text x="1441.5" y="42.6" text-anchor="end" font-size="27.7">1.0</text>
<path d="M1449.8,757v-7.5 M1449.8,579v7.5 M1578.2,757v-7.5 M1578.2,579v7.5 M1706.5,757v-7.5 M1706.5,579v7.5 M1834.9,757v-7.5 M1834.9,579v7.5 M1963.3,757v-7.5 M1963.3,579v7.5 M1449.8,745.6h7.5 M1963.3,745.6h-7.5 M1449.8,666.1h7.5 M1963.3,666.1h-7.5 M1449.8,587.5h7.5 M1963.3,587.5h-7.5 " stroke="#000" stroke-width="1.6" fill="none"/>
<rect x="1449.8" y="579" width="513.5" height="178" fill="none" stroke="#000" stroke-width="1.8"/>
<text x="1441.5" y="756.2" text-anchor="end" font-size="27.7">−1</text>
<text x="1441.5" y="676.7" text-anchor="end" font-size="27.7">0</text>
<text x="1441.5" y="598.1" text-anchor="end" font-size="27.7">1</text>
<text x="1449.8" y="786.2" text-anchor="middle" font-size="27.7">−20</text>
<text x="1578.2" y="786.2" text-anchor="middle" font-size="27.7">−10</text>
<text x="1706.5" y="786.2" text-anchor="middle" font-size="27.7">0</text>
<text x="1834.9" y="786.2" text-anchor="middle" font-size="27.7">10</text>
<text x="1963.3" y="786.2" text-anchor="middle" font-size="27.7">20</text>
<text x="1706.5" y="827.3" text-anchor="middle" font-size="35.0">Field Strength (mT)</text>
<text transform="translate(1367.6,359.6) rotate(-90)" font-size="35.0">R<tspan font-size="24.1" dy="5.1" dx="1.0">1</tspan><tspan font-size="26.3" dy="0.5" dx="-0.3">ω</tspan><tspan dy="-5.6" dx="-1.0">/R</tspan><tspan font-size="24.1" dy="5.1" dx="0.7">1max</tspan></text>
<text transform="translate(1366,752.7) rotate(-90)" font-size="35.0">R<tspan font-size="24.1" dy="5.1" dx="1.0">2</tspan><tspan font-size="25.6" dy="0.5" dx="0.3">ω</tspan><tspan dy="-5.6" dx="-1.0">/R</tspan><tspan font-size="24.1" dy="5.1" dx="0.7">2max</tspan></text>
<rect x="1467.1" y="219.5" width="186.2" height="111.9" rx="6" ry="6" fill="#fff" fill-opacity="0.8" stroke="#d5d5d5" stroke-width="2.6"/>
<path d="M1479,247.4h72.4" stroke="#e41a1c" stroke-width="3.3"/>
<circle cx="1515.2" cy="247.4" r="7.9" fill="#e41a1c"/>
<text x="1577.2" y="256.9" font-size="35.0">0°</text>
<path d="M1479,298h72.4" stroke="#377eb8" stroke-width="3.3"/>
<circle cx="1515.2" cy="298" r="7.9" fill="#377eb8"/>
<text x="1577.2" y="307.5" font-size="35.0">90°</text>
<rect x="1467.1" y="595.9" width="186.2" height="61.3" rx="6" ry="6" fill="#fff" fill-opacity="0.8" stroke="#d5d5d5" stroke-width="2.6"/>
<path d="M1479,623.8h72.4" stroke="#377eb8" stroke-width="3.3"/>
<circle cx="1515.2" cy="623.8" r="7.9" fill="#377eb8"/>
<text x="1577.2" y="633.3" font-size="35.0">90°</text>
<text class="b" x="0" y="0" style="font-size:43.5px" transform="translate(-1.2,30) scale(0.88,1)">a</text>
<text class="b" x="0" y="0" style="font-size:43.5px" transform="translate(672.2,32.7) scale(1.03,1)">b</text>
<text class="b" x="0" y="0" style="font-size:43.5px" transform="translate(1352.6,30) scale(0.9,1)">c</text>
<path d="M458.1,189.3L479.3,189.3 M493.3,189.3L512,189.3 M526.2,189.3L545,189.3 M558.9,189.3L578,189.3 M592.3,189.3L610.8,189.3 M608.4,205.6L608.4,224.4 M608.4,238.8L608.4,257.2 M608.4,271.9L608.4,290.3 M608.4,305L608.4,323.3 M590.2,337.7L610.8,337.7 M557,337.7L576,337.7 M524,337.7L543.3,337.7 M491.4,337.7L510.2,337.7 M458.1,337.7L477.1,337.7 M460.5,203.9L460.5,222.9 M460.5,237L460.5,255.9 M460.5,270.2L460.5,287.8" fill="none" stroke="#000" stroke-width="4.8"/>
<polygon points="493.8,202.3 488.5,207.6 488.5,291.1 500.2,291.1 505.3,285 493.8,285" fill="#3a3a3a"/>
<polygon points="493.8,202.3 505.3,202.3 505.3,285 493.8,285" fill="#a6a6a6"/>
<polygon points="570.1,202.3 564.8,207.6 564.8,291.1 576.5,291.1 581.6,285 570.1,285" fill="#3a3a3a"/>
<polygon points="570.1,202.3 581.6,202.3 581.6,285 570.1,285" fill="#a6a6a6"/>
<polygon points="512.6,229.1 532.6,228.6 512.3,249.1" fill="#8c3f00"/>
<polygon points="559.9,275.5 539.9,276 560.2,255.5" fill="#8c3f00"/>
<path d="M521.6,238.1L550.9,266.5" stroke="#8c3f00" stroke-width="5.6"/>
<text class="b" transform="translate(534.1,321.2) rotate(0) scale(1.14,1)" text-anchor="middle" style="font-size:30.6px;fill:#7f1a00">M</text>
<path d="M512.9,172.9L512.9,138" stroke="#e41a1c" stroke-width="6.2"/>
<path d="M512.9,119.8L522.4,138.5L503.4,138.5Z" fill="#e41a1c"/>
<path d="M514.3,175.7L553.5,175.7" stroke="#377eb8" stroke-width="6.2"/>
<path d="M571.8,175.7L553,185.1L553,166.3Z" fill="#377eb8"/>
<text class="b" transform="translate(485.9,159.8) rotate(0) scale(0.9,1)" text-anchor="middle" style="font-size:30.8px;fill:#e41a1c">H</text>
<text class="b" transform="translate(571.7,165) rotate(0) scale(0.9,1)" text-anchor="middle" style="font-size:30.8px;fill:#377eb8">H</text>
<path d="M461.1,340.1L461.1,300.8" stroke="#000" stroke-width="5.8"/>
<path d="M461.1,286.8L470.9,301.3L451.4,301.3Z" fill="#000"/>
<path d="M458.2,337.2L499.1,337.2" stroke="#000" stroke-width="5.8"/>
<path d="M517.1,337.2L498.6,346.4L498.6,327.9Z" fill="#000"/>
<text transform="translate(441.5,312.7) rotate(-90) scale(0.975,1)" text-anchor="middle" font-size="26.5">[010]</text>
<text transform="translate(492.3,375.2) scale(0.975,1)" text-anchor="middle" font-size="26.5">[100]</text>
<path d="M1121.5,192.6L1142.7,192.6 M1156.7,192.6L1175.4,192.6 M1189.6,192.6L1208.4,192.6 M1222.3,192.6L1241.4,192.6 M1255.7,192.6L1274.6,192.6 M1272.2,208.9L1272.2,227.7 M1272.2,242.1L1272.2,260.5 M1272.2,275.2L1272.2,293.6 M1272.2,308.3L1272.2,326.6 M1253.6,341L1274.6,341 M1220.4,341L1239.4,341 M1187.4,341L1206.7,341 M1154.8,341L1173.6,341 M1121.5,341L1140.5,341 M1123.9,207.2L1123.9,226.2 M1123.9,240.3L1123.9,259.2 M1123.9,273.5L1123.9,291.1" fill="none" stroke="#000" stroke-width="4.8"/>
<polygon points="1187.6,206.5 1247.6,265.9 1255.1,258.8 1255.1,265.9 1247.6,273 1187.6,213.6" fill="#3a3a3a"/>
<polygon points="1194.7,198.8 1255.1,258.8 1247.6,265.9 1187.6,206.5" fill="#a6a6a6"/>
<polygon points="1133.4,260.1 1193.8,320.1 1201.6,313 1201.6,320.1 1193.8,327.2 1133.4,267.2" fill="#3a3a3a"/>
<polygon points="1141.2,252.5 1201.6,313 1193.8,320.1 1133.4,260.1" fill="#a6a6a6"/>
<polygon points="1171.2,238.2 1191.2,237.7 1170.9,258.2" fill="#8c3f00"/>
<polygon points="1218.5,284.6 1198.5,285.1 1218.8,264.6" fill="#8c3f00"/>
<path d="M1180.2,247.2L1209.5,275.6" stroke="#8c3f00" stroke-width="5.6"/>
<text class="b" transform="translate(1236.5,302.9) rotate(-45) translate(0,10.9) scale(1.14,1)" text-anchor="middle" style="font-size:30.6px;fill:#7f1a00">M</text>
<path d="M1202.1,189.1L1173.6,160.6" stroke="#e41a1c" stroke-width="6.2"/>
<path d="M1160.7,147.7L1180.6,154.2L1167.2,167.6Z" fill="#e41a1c"/>
<path d="M1197.9,189.1L1226.4,160.6" stroke="#377eb8" stroke-width="6.2"/>
<path d="M1239.3,147.7L1232.8,167.6L1219.4,154.2Z" fill="#377eb8"/>
<text class="b" transform="translate(1150,172.4) rotate(-45) translate(0,10.4) scale(0.9,1)" text-anchor="middle" style="font-size:30.8px;fill:#e41a1c">H</text>
<text class="b" transform="translate(1247.7,171.2) rotate(45) translate(0,10.4) scale(0.9,1)" text-anchor="middle" style="font-size:30.8px;fill:#377eb8">H</text>
<path d="M1124.6,343.7L1124.6,304.4" stroke="#000" stroke-width="5.8"/>
<path d="M1124.6,290.4L1134.3,304.9L1114.8,304.9Z" fill="#000"/>
<path d="M1121.7,340.8L1162.6,340.8" stroke="#000" stroke-width="5.8"/>
<path d="M1180.6,340.8L1162.1,350.1L1162.1,331.6Z" fill="#000"/>
<text transform="translate(1105,316.3) rotate(-90) scale(0.975,1)" text-anchor="middle" font-size="26.5">[010]</text>
<text transform="translate(1155.8,378.8) scale(0.975,1)" text-anchor="middle" font-size="26.5">[100]</text>
<path d="M1792.9,194L1814.1,194 M1828.1,194L1846.8,194 M1861,194L1879.8,194 M1893.7,194L1912.8,194 M1927.1,194L1945.8,194 M1943.4,210.3L1943.4,229.1 M1943.4,243.5L1943.4,261.9 M1943.4,276.6L1943.4,295 M1943.4,309.7L1943.4,328 M1925,341.4L1945.8,341.4 M1891.8,341.4L1910.8,341.4 M1858.8,341.4L1878.1,341.4 M1826.2,341.4L1845,341.4 M1792.9,341.4L1811.9,341.4 M1795.3,208.6L1795.3,227.6 M1795.3,241.7L1795.3,260.6 M1795.3,274.9L1795.3,292.5" fill="none" stroke="#000" stroke-width="4.8"/>
<polygon points="1874.5,206.6 1868.2,206.6 1808.6,266 1816.7,273.8 1823,273.4 1814.9,266" fill="#3a3a3a"/>
<polygon points="1874.5,206.6 1883.1,214.5 1823,273.4 1814.9,266" fill="#a6a6a6"/>
<polygon points="1928.6,260.6 1922.3,260.6 1862.6,319.5 1870.7,327.8 1877,327.4 1868.9,319.5" fill="#3a3a3a"/>
<polygon points="1928.6,260.6 1937.2,268 1877,327.4 1868.9,319.5" fill="#a6a6a6"/>
<polygon points="1866.4,227.2 1886.4,226.7 1866.1,247.2" fill="#8c3f00"/>
<polygon points="1913.7,273.6 1893.7,274.1 1914,253.6" fill="#8c3f00"/>
<path d="M1875.4,236.2L1904.7,264.6" stroke="#8c3f00" stroke-width="5.6"/>
<text class="b" transform="translate(1843.1,300.9) rotate(45) translate(0,10.9) scale(1.14,1)" text-anchor="middle" style="font-size:30.6px;fill:#7f1a00">M</text>
<path d="M1873.2,189.6L1844.7,161.1" stroke="#377eb8" stroke-width="6.2"/>
<path d="M1831.8,148.2L1851.7,154.7L1838.3,168.1Z" fill="#377eb8"/>
<path d="M1869,189.6L1897.5,161.1" stroke="#e41a1c" stroke-width="6.2"/>
<path d="M1910.4,148.2L1903.9,168.1L1890.5,154.7Z" fill="#e41a1c"/>
<text class="b" transform="translate(1821.3,173.4) rotate(-45) translate(0,10.4) scale(0.9,1)" text-anchor="middle" style="font-size:30.8px;fill:#377eb8">H</text>
<text class="b" transform="translate(1919.4,171.7) rotate(45) translate(0,10.4) scale(0.9,1)" text-anchor="middle" style="font-size:30.8px;fill:#e41a1c">H</text>
<path d="M1795.6,343.6L1795.6,304.3" stroke="#000" stroke-width="5.8"/>
<path d="M1795.6,290.3L1805.3,304.8L1785.8,304.8Z" fill="#000"/>
<path d="M1792.7,340.7L1833.6,340.7" stroke="#000" stroke-width="5.8"/>
<path d="M1851.6,340.7L1833.1,349.9L1833.1,331.4Z" fill="#000"/>
<text transform="translate(1776,316.2) rotate(-90) scale(0.975,1)" text-anchor="middle" font-size="26.5">[010]</text>
<text transform="translate(1826.8,378.7) scale(0.975,1)" text-anchor="middle" font-size="26.5">[100]</text>
</svg>
</body></html>
